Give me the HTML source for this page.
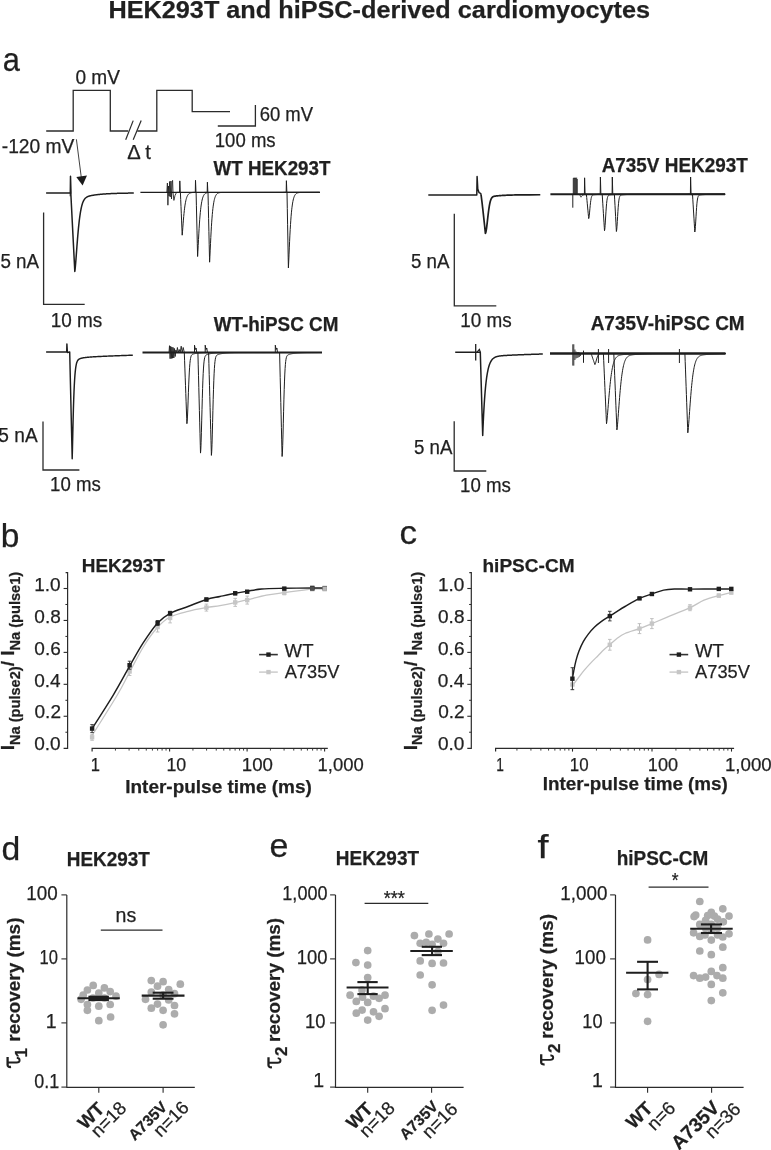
<!DOCTYPE html>
<html><head><meta charset="utf-8"><style>
html,body{margin:0;padding:0;background:#fff;}
svg{display:block;font-family:"Liberation Sans",sans-serif;filter:grayscale(100%);}
text{stroke:#231f20;stroke-width:0.25px;}
</style></head><body>
<svg width="771" height="1150" viewBox="0 0 771 1150">
<rect width="771" height="1150" fill="#fff"/>
<text x="108.46" y="18.40" font-size="24.6" font-weight="bold" fill="#231f20" textLength="541.60" lengthAdjust="spacingAndGlyphs">HEK293T and hiPSC-derived cardiomyocytes</text>
<text x="2.87" y="71.20" font-size="33.5" fill="#231f20" textLength="17.17" lengthAdjust="spacingAndGlyphs">a</text>
<text x="0.82" y="547.00" font-size="33.5" fill="#231f20" textLength="18.66" lengthAdjust="spacingAndGlyphs">b</text>
<text x="399.59" y="543.60" font-size="33.5" fill="#231f20" textLength="17.59" lengthAdjust="spacingAndGlyphs">c</text>
<text x="1.55" y="859.90" font-size="33.5" fill="#231f20" textLength="18.79" lengthAdjust="spacingAndGlyphs">d</text>
<text x="269.64" y="857.40" font-size="33.5" fill="#231f20" textLength="18.93" lengthAdjust="spacingAndGlyphs">e</text>
<text x="537.51" y="857.50" font-size="33.5" fill="#231f20" textLength="11.01" lengthAdjust="spacingAndGlyphs">f</text>
<path d="M46.2,131 H73.2 V90.3 H110.3 V131 H128.2 M137.3,131 H156.8 V90.3 H192.2 V111.7 H230.0" stroke="#2b2b2b" stroke-width="1.3" fill="none"/>
<line x1="125.70" y1="139.70" x2="133.20" y2="120.60" stroke="#2b2b2b" stroke-width="1.2"/>
<line x1="133.20" y1="139.70" x2="141.20" y2="120.60" stroke="#2b2b2b" stroke-width="1.2"/>
<path d="M217.8,126.0 H255.4 V105.0" stroke="#2b2b2b" stroke-width="1.3" fill="none"/>
<text x="75.44" y="84.30" font-size="19.5" fill="#231f20" textLength="44.53" lengthAdjust="spacingAndGlyphs">0 mV</text>
<text x="1.74" y="152.50" font-size="19.5" fill="#231f20" textLength="72.64" lengthAdjust="spacingAndGlyphs">-120 mV</text>
<text x="127.19" y="159.10" font-size="19.5" fill="#231f20" textLength="23.58" lengthAdjust="spacingAndGlyphs">Δ t</text>
<text x="259.68" y="120.50" font-size="19.5" fill="#231f20" textLength="53.42" lengthAdjust="spacingAndGlyphs">60 mV</text>
<text x="214.81" y="146.90" font-size="19.5" fill="#231f20" textLength="60.83" lengthAdjust="spacingAndGlyphs">100 ms</text>
<line x1="76.40" y1="139.30" x2="81.30" y2="177.50" stroke="#2b2b2b" stroke-width="0.9"/>
<polygon points="76.3,177 87,175.6 82.6,185.6" fill="#1a1a1a"/>
<text x="213.60" y="174.60" font-size="19.5" font-weight="bold" fill="#231f20" textLength="116.85" lengthAdjust="spacingAndGlyphs">WT HEK293T</text>
<text x="601.63" y="171.60" font-size="19.5" font-weight="bold" fill="#231f20" textLength="146.18" lengthAdjust="spacingAndGlyphs">A735V HEK293T</text>
<text x="213.70" y="330.90" font-size="19.5" font-weight="bold" fill="#231f20" textLength="124.73" lengthAdjust="spacingAndGlyphs">WT-hiPSC CM</text>
<text x="590.63" y="329.80" font-size="19.5" font-weight="bold" fill="#231f20" textLength="154.07" lengthAdjust="spacingAndGlyphs">A735V-hiPSC CM</text>
<path d="M43.6,212.6 V304.4 H84.7" stroke="#2b2b2b" stroke-width="1.3" fill="none"/>
<path d="M454.3,213.7 V305.9 H496.3" stroke="#2b2b2b" stroke-width="1.3" fill="none"/>
<path d="M43.0,421.5 V470.0 H79.4" stroke="#2b2b2b" stroke-width="1.3" fill="none"/>
<path d="M454.2,421.2 V471.0 H486.3" stroke="#2b2b2b" stroke-width="1.3" fill="none"/>
<text x="0.45" y="267.50" font-size="19.5" fill="#231f20" textLength="38.69" lengthAdjust="spacingAndGlyphs">5 nA</text>
<text x="50.78" y="326.70" font-size="19.5" fill="#231f20" textLength="51.55" lengthAdjust="spacingAndGlyphs">10 ms</text>
<text x="410.95" y="267.80" font-size="19.5" fill="#231f20" textLength="38.59" lengthAdjust="spacingAndGlyphs">5 nA</text>
<text x="460.28" y="327.20" font-size="19.5" fill="#231f20" textLength="51.55" lengthAdjust="spacingAndGlyphs">10 ms</text>
<text x="-1.66" y="442.30" font-size="19.5" fill="#231f20" textLength="39.31" lengthAdjust="spacingAndGlyphs">5 nA</text>
<text x="50.10" y="491.20" font-size="19.5" fill="#231f20" textLength="50.71" lengthAdjust="spacingAndGlyphs">10 ms</text>
<text x="413.95" y="454.20" font-size="19.5" fill="#231f20" textLength="38.49" lengthAdjust="spacingAndGlyphs">5 nA</text>
<text x="460.00" y="492.20" font-size="19.5" fill="#231f20" textLength="50.82" lengthAdjust="spacingAndGlyphs">10 ms</text>
<path d="M46.10,192.90 L70.30,192.90 L70.50,176.20 L71.00,193.40 L70.80,192.90 L71.10,198.79 L71.40,204.67 L71.70,210.56 L72.00,216.45 L72.30,222.34 L72.60,228.22 L72.90,234.11 L73.20,240.00 L73.50,245.89 L73.80,251.77 L74.10,257.66 L74.40,263.55 L74.70,269.44 L74.80,271.40 L75.10,269.39 L75.40,266.30 L75.70,262.71 L76.00,258.84 L76.30,254.84 L76.60,250.81 L76.90,246.81 L77.20,242.91 L77.50,239.14 L77.80,235.53 L78.10,232.11 L78.40,228.89 L78.70,225.86 L79.00,223.05 L79.30,220.44 L79.60,218.03 L79.90,215.82 L80.20,213.80 L80.50,211.95 L80.80,210.27 L81.10,208.74 L81.40,207.37 L81.70,206.12 L82.00,205.00 L82.30,204.00 L82.60,203.10 L82.90,202.29 L83.20,201.57 L83.50,200.93 L83.80,200.35 L84.10,199.84 L84.40,199.38 L84.70,198.97 L85.00,198.61 L85.30,198.28 L85.60,197.99 L85.90,197.73 L86.20,197.50 L86.50,197.29 L86.80,197.10 L87.10,196.93 L87.40,196.77 L87.70,196.63 L88.00,196.50 L88.30,196.38 L88.60,196.27 L88.90,196.17 L89.20,196.08 L89.50,195.99 L89.80,195.91 L90.10,195.83 L90.40,195.76 L90.70,195.69 L91.00,195.62 L91.30,195.56 L91.60,195.50 L91.90,195.44 L92.20,195.39 L92.50,195.34 L92.80,195.28 L93.10,195.23 L93.40,195.18 L93.70,195.14 L94.00,195.09 L94.30,195.05 L94.60,195.00 L94.90,194.96 L95.20,194.92 L95.50,194.88 L95.80,194.84 L96.10,194.80 L96.40,194.76 L96.70,194.72 L97.00,194.69 L97.30,194.65 L97.60,194.62 L97.90,194.58 L98.20,194.55 L98.50,194.52 L98.80,194.49 L99.10,194.45 L99.40,194.42 L99.70,194.39 L100.00,194.36 L100.30,194.33 L100.60,194.31 L100.90,194.28 L101.20,194.25 L101.50,194.22 L101.80,194.20 L102.10,194.17 L102.40,194.15 L102.70,194.12 L103.00,194.10 L103.30,194.07 L103.60,194.05 L103.90,194.03 L104.20,194.01 L104.50,193.98 L104.80,193.96 L105.10,193.94 L105.40,193.92 L105.70,193.90 L106.00,193.88 L106.30,193.86 L106.60,193.84 L106.90,193.82 L107.20,193.81 L107.50,193.79 L107.80,193.77 L108.10,193.75 L108.40,193.74 L108.70,193.72 L109.00,193.70 L109.30,193.69 L109.60,193.67 L109.90,193.66 L110.20,193.64 L110.50,193.63 L110.80,193.61 L111.10,193.60 L111.40,193.58 L111.70,193.57 L112.00,193.56 L112.30,193.54 L112.60,193.53 L112.90,193.52 L113.20,193.51 L113.50,193.49 L113.80,193.48 L114.10,193.47 L114.40,193.46 L114.70,193.45 L115.00,193.44 L115.30,193.43 L115.60,193.42 L115.90,193.41 L116.20,193.40 L116.50,193.39 L116.80,193.38 L117.10,193.37 L117.40,193.36 L117.70,193.35 L118.00,193.34 L118.30,193.33 L118.60,193.32 L118.90,193.31 L119.20,193.31 L119.50,193.30 L119.80,193.29 L120.10,193.28 L120.40,193.28 L120.70,193.27 L121.00,193.26 L121.30,193.25 L121.60,193.25 L121.90,193.24 L122.20,193.23 L122.50,193.23 L122.80,193.22 L123.10,193.21 L123.40,193.21 L123.70,193.20 L124.00,193.20 L124.30,193.19 L124.60,193.18 L124.90,193.18 L125.20,193.17 L125.50,193.17 L125.80,193.16 L126.10,193.16 L126.40,193.15 L126.70,193.15 L127.00,193.14 L127.30,193.14 L127.60,193.13 L127.90,193.13 L128.20,193.12 L128.50,193.12 L128.80,193.11 L129.10,193.11 L129.40,193.11 L129.70,193.10 L130.00,193.10 L130.30,193.09 L130.60,193.09 L130.90,193.09 L131.20,193.08 L131.50,193.08 L131.80,193.08 L132.10,193.07 L132.40,193.07 L132.70,193.07 L133.00,193.06 L133.30,193.06 L133.60,193.06 L133.80,193.05" stroke="#1e1e1e" stroke-width="1.5" fill="none" stroke-linejoin="round" stroke-linecap="butt"/>
<line x1="70.20" y1="192.90" x2="70.20" y2="196.30" stroke="#1e1e1e" stroke-width="1.0"/>
<path d="M176.80,192.40 L179.60,192.40 L179.80,180.90 L180.30,192.90 L180.40,192.40 L180.70,199.53 L181.00,206.67 L181.30,213.80 L181.60,220.93 L181.90,228.07 L182.20,235.20 L182.50,231.81 L182.80,227.81 L183.10,223.85 L183.40,220.10 L183.70,216.63 L184.00,213.48 L184.30,210.66 L184.60,208.15 L184.90,205.93 L185.20,203.98 L185.50,202.29 L185.80,200.81 L186.10,199.54 L186.40,198.45 L186.70,197.51 L187.00,196.70 L187.30,196.02 L187.60,195.44 L187.90,194.94 L188.20,194.52 L188.50,194.17 L188.80,193.88 L189.10,193.63 L189.40,193.42 L189.70,193.25 L190.00,193.10 L190.30,192.98 L190.60,192.88 L190.90,192.79 L191.20,192.72 L191.50,192.67 L191.80,192.62 L192.10,192.58 L192.40,192.55 L192.70,192.52 L193.00,192.50 L193.30,192.48 L319.80,192.40" stroke="#1e1e1e" stroke-width="1.0" fill="none" stroke-linejoin="round" stroke-linecap="butt"/>
<path d="M192.50,192.40 L195.30,192.40 L195.50,180.30 L196.00,192.90 L196.10,192.40 L196.40,205.22 L196.70,218.04 L197.00,230.86 L197.30,243.68 L197.60,256.50 L197.90,251.43 L198.20,245.44 L198.50,239.50 L198.80,233.88 L199.10,228.69 L199.40,223.98 L199.70,219.74 L200.00,215.98 L200.30,212.66 L200.60,209.75 L200.90,207.21 L201.20,205.00 L201.50,203.09 L201.80,201.45 L202.10,200.05 L202.40,198.84 L202.70,197.82 L203.00,196.95 L203.30,196.21 L203.60,195.58 L203.90,195.06 L204.20,194.61 L204.50,194.24 L204.80,193.93 L205.10,193.67 L205.40,193.45 L205.70,193.27 L206.00,193.11 L206.30,192.99 L206.60,192.88 L206.90,192.80 L207.20,192.73 L207.50,192.67 L207.80,192.62 L208.10,192.58 L208.40,192.55 L208.70,192.52 L209.00,192.50 L209.30,192.48 L319.80,192.40" stroke="#1e1e1e" stroke-width="1.0" fill="none" stroke-linejoin="round" stroke-linecap="butt"/>
<path d="M204.40,192.40 L207.20,192.40 L207.40,182.20 L207.90,192.90 L208.00,192.40 L208.30,205.49 L208.60,218.58 L208.90,231.66 L209.20,244.75 L209.50,257.84 L209.60,262.20 L209.90,256.67 L210.20,250.15 L210.50,243.69 L210.80,237.57 L211.10,231.92 L211.40,226.78 L211.70,222.18 L212.00,218.08 L212.30,214.46 L212.60,211.29 L212.90,208.52 L213.20,206.12 L213.50,204.05 L213.80,202.26 L214.10,200.73 L214.40,199.42 L214.70,198.30 L215.00,197.35 L215.30,196.55 L215.60,195.87 L215.90,195.29 L216.20,194.81 L216.50,194.40 L216.80,194.06 L217.10,193.78 L217.40,193.54 L217.70,193.34 L218.00,193.18 L218.30,193.04 L218.60,192.93 L218.90,192.83 L219.20,192.76 L219.50,192.69 L219.80,192.64 L220.10,192.60 L220.40,192.56 L220.70,192.53 L221.00,192.51 L221.30,192.49 L221.60,192.47 L319.80,192.40" stroke="#1e1e1e" stroke-width="1.0" fill="none" stroke-linejoin="round" stroke-linecap="butt"/>
<path d="M283.40,192.40 L286.20,192.40 L286.40,180.70 L286.90,192.90 L287.00,192.40 L287.30,208.58 L287.60,224.76 L287.90,240.94 L288.20,257.11 L288.40,267.90 L288.70,261.92 L289.00,254.87 L289.30,247.87 L289.60,241.26 L289.90,235.14 L290.20,229.59 L290.50,224.61 L290.80,220.17 L291.10,216.26 L291.40,212.83 L291.70,209.84 L292.00,207.24 L292.30,205.00 L292.60,203.06 L292.90,201.41 L293.20,199.99 L293.50,198.78 L293.80,197.75 L294.10,196.88 L294.40,196.15 L294.70,195.53 L295.00,195.01 L295.30,194.57 L295.60,194.20 L295.90,193.89 L296.20,193.63 L296.50,193.42 L296.80,193.24 L297.10,193.09 L297.40,192.97 L297.70,192.87 L298.00,192.79 L298.30,192.72 L298.60,192.66 L298.90,192.61 L299.20,192.57 L299.50,192.54 L299.80,192.52 L300.10,192.49 L300.40,192.48 L319.80,192.40" stroke="#1e1e1e" stroke-width="1.0" fill="none" stroke-linejoin="round" stroke-linecap="butt"/>
<path d="M140.40,192.40 L319.80,192.40" stroke="#1e1e1e" stroke-width="1.4" fill="none" stroke-linejoin="round" stroke-linecap="butt"/>
<path d="M166.8,192.4 L167.4,183 L167.9,205.2 L168.5,186 L169.1,196 L169.6,181.5 L170.2,197 L170.9,181 L171.5,199 L172.1,182 L172.6,180.4 L173.0,192.4 L173.9,200.4 L175.0,195.5 L176.5,192.4" stroke="#1e1e1e" stroke-width="0.85" fill="none"/>
<path d="M428.3,194.9 L476.8,194.9 L477.1,176.6 L477.8,189 L479,192.6 L480.6,193.4 L481.2,194.8" stroke="#1e1e1e" stroke-width="1.5" fill="none" stroke-linejoin="round"/>
<path d="M481.00,194.70 L481.00,194.70 L481.30,196.72 L481.60,199.02 L481.90,201.45 L482.20,203.97 L482.50,206.55 L482.80,209.18 L483.10,211.85 L483.40,214.57 L483.70,217.32 L484.00,220.09 L484.30,222.90 L484.60,225.73 L484.90,228.59 L485.20,231.47 L485.40,233.40 L485.70,232.85 L486.00,231.63 L486.30,229.90 L486.60,227.78 L486.90,225.39 L487.20,222.81 L487.50,220.15 L487.80,217.50 L488.10,214.91 L488.40,212.45 L488.70,210.15 L489.00,208.05 L489.30,206.16 L489.60,204.49 L489.90,203.03 L490.20,201.78 L490.50,200.71 L490.80,199.82 L491.10,199.08 L491.40,198.47 L491.70,197.98 L492.00,197.58 L492.30,197.26 L492.60,197.01 L492.90,196.80 L493.20,196.64 L493.50,196.51 L493.80,196.40 L494.10,196.32 L494.40,196.24 L494.70,196.18 L495.00,196.13 L495.30,196.08 L495.60,196.04 L495.90,196.00 L496.20,195.97 L496.50,195.93 L496.80,195.90 L497.10,195.87 L497.40,195.84 L497.70,195.81 L498.00,195.78 L498.30,195.76 L498.60,195.73 L498.90,195.71 L499.20,195.68 L499.50,195.66 L499.80,195.63 L500.10,195.61 L500.40,195.59 L500.70,195.57 L501.00,195.54 L501.30,195.52 L501.60,195.50 L501.90,195.48 L502.20,195.46 L502.50,195.44 L502.80,195.43 L503.10,195.41 L503.40,195.39 L503.70,195.37 L504.00,195.36 L504.30,195.34 L504.60,195.33 L504.90,195.31 L505.20,195.29 L505.50,195.28 L505.80,195.27 L506.10,195.25 L506.40,195.24 L506.70,195.22 L507.00,195.21 L507.30,195.20 L507.60,195.19 L507.90,195.17 L508.20,195.16 L508.50,195.15 L508.80,195.14 L509.10,195.13 L509.40,195.12 L509.70,195.11 L510.00,195.10 L510.30,195.09 L510.60,195.08 L510.90,195.07 L511.20,195.06 L511.50,195.05 L511.80,195.04 L512.10,195.03 L512.40,195.03 L512.70,195.02 L513.00,195.01 L513.30,195.00 L513.60,195.00 L513.90,194.99 L514.20,194.98 L514.50,194.97 L514.80,194.97 L515.10,194.96 L515.40,194.95 L515.70,194.95 L516.00,194.94 L516.30,194.94 L516.60,194.93 L516.90,194.92 L517.20,194.92 L517.50,194.91 L517.80,194.91 L518.10,194.90 L518.40,194.90 L518.70,194.89 L519.00,194.89 L519.30,194.88 L519.60,194.88 L519.90,194.87 L520.20,194.87 L520.50,194.87 L520.80,194.86 L521.10,194.86 L521.40,194.85 L521.70,194.85 L522.00,194.85 L522.30,194.84 L522.60,194.84 L522.90,194.84 L523.20,194.83 L523.50,194.83 L523.80,194.83 L524.10,194.82 L524.40,194.82 L524.70,194.82 L525.00,194.81 L525.30,194.81 L525.60,194.81 L525.90,194.81 L526.20,194.80 L526.50,194.80 L526.80,194.80 L527.10,194.80 L527.40,194.79 L527.70,194.79 L528.00,194.79 L528.30,194.79 L528.60,194.78 L528.90,194.78 L529.20,194.78 L529.50,194.78 L540.30,194.73" stroke="#1e1e1e" stroke-width="1.7" fill="none" stroke-linejoin="round" stroke-linecap="butt"/>
<path d="M581.60,194.30 L584.40,194.30 L584.60,177.80 L585.10,194.80 L586.40,194.30 L586.70,197.47 L587.00,200.64 L587.30,203.81 L587.60,206.98 L587.90,210.15 L588.20,213.32 L588.50,216.49 L588.70,218.60 L589.00,217.53 L589.30,215.18 L589.60,212.11 L589.90,208.79 L590.20,205.59 L590.50,202.77 L590.80,200.44 L591.10,198.64 L591.40,197.32 L591.70,196.40 L592.00,195.78 L592.30,195.38 L592.60,195.12 L592.90,194.97 L593.20,194.87 L593.50,194.80 L593.80,194.75 L594.10,194.72 L594.40,194.69 L594.70,194.67 L595.00,194.65 L595.30,194.62 L595.60,194.61 L595.90,194.59 L596.20,194.57 L596.50,194.56 L596.80,194.54 L597.10,194.53 L597.40,194.51 L597.70,194.50 L598.00,194.49 L598.30,194.48 L598.60,194.47 L598.90,194.46 L599.20,194.45 L599.50,194.44 L599.80,194.43 L600.10,194.42 L600.40,194.42 L600.70,194.41 L601.00,194.40 L601.30,194.40 L601.60,194.39 L601.90,194.39 L602.20,194.38 L602.50,194.38 L725.10,194.30" stroke="#1e1e1e" stroke-width="1.0" fill="none" stroke-linejoin="round" stroke-linecap="butt"/>
<path d="M597.40,194.30 L600.20,194.30 L600.40,177.00 L600.90,194.80 L602.20,194.30 L602.50,199.05 L602.80,203.80 L603.10,208.54 L603.40,213.29 L603.70,218.04 L604.00,222.79 L604.30,227.53 L604.50,230.70 L604.80,229.10 L605.10,225.58 L605.40,220.97 L605.70,216.00 L606.00,211.21 L606.30,206.98 L606.60,203.50 L606.90,200.81 L607.20,198.83 L607.50,197.44 L607.80,196.52 L608.10,195.91 L608.40,195.54 L608.70,195.30 L609.00,195.15 L609.30,195.05 L609.60,194.98 L609.90,194.93 L610.20,194.89 L610.50,194.85 L610.80,194.82 L611.10,194.79 L611.40,194.76 L611.70,194.73 L612.00,194.71 L612.30,194.68 L612.60,194.66 L612.90,194.64 L613.20,194.62 L613.50,194.60 L613.80,194.58 L614.10,194.57 L614.40,194.55 L614.70,194.54 L615.00,194.52 L615.30,194.51 L615.60,194.50 L615.90,194.49 L616.20,194.48 L616.50,194.47 L616.80,194.46 L617.10,194.45 L617.40,194.44 L617.70,194.43 L618.00,194.42 L618.30,194.42 L618.60,194.41 L618.90,194.40 L619.20,194.40 L619.50,194.39 L619.80,194.39 L620.10,194.38 L620.40,194.38 L725.10,194.30" stroke="#1e1e1e" stroke-width="1.0" fill="none" stroke-linejoin="round" stroke-linecap="butt"/>
<path d="M609.30,194.30 L612.10,194.30 L612.30,177.00 L612.80,194.80 L614.40,194.30 L614.70,199.88 L615.00,205.46 L615.30,211.04 L615.60,216.62 L615.90,222.20 L616.20,227.78 L616.40,231.50 L616.70,229.87 L617.00,226.26 L617.30,221.56 L617.60,216.48 L617.90,211.58 L618.20,207.26 L618.50,203.71 L618.80,200.95 L619.10,198.93 L619.40,197.51 L619.70,196.56 L620.00,195.95 L620.30,195.56 L620.60,195.32 L620.90,195.17 L621.20,195.07 L621.50,195.00 L621.80,194.94 L622.10,194.90 L622.40,194.86 L622.70,194.83 L623.00,194.80 L623.30,194.77 L623.60,194.74 L623.90,194.72 L624.20,194.69 L624.50,194.67 L624.80,194.65 L625.10,194.63 L625.40,194.61 L625.70,194.59 L626.00,194.57 L626.30,194.56 L626.60,194.54 L626.90,194.53 L627.20,194.51 L627.50,194.50 L627.80,194.49 L628.10,194.48 L628.40,194.47 L628.70,194.46 L629.00,194.45 L629.30,194.44 L629.60,194.43 L629.90,194.43 L630.20,194.42 L630.50,194.41 L630.80,194.40 L631.10,194.40 L631.40,194.39 L631.70,194.39 L632.00,194.38 L632.30,194.38 L725.10,194.30" stroke="#1e1e1e" stroke-width="1.0" fill="none" stroke-linejoin="round" stroke-linecap="butt"/>
<path d="M687.60,194.30 L690.40,194.30 L690.60,177.00 L691.10,194.80 L692.50,194.30 L692.80,199.22 L693.10,204.13 L693.40,209.05 L693.70,213.97 L694.00,218.89 L694.30,223.80 L694.60,228.72 L694.80,232.00 L695.10,230.35 L695.40,226.69 L695.70,221.93 L696.00,216.77 L696.30,211.82 L696.60,207.44 L696.90,203.83 L697.20,201.04 L697.50,198.99 L697.80,197.56 L698.10,196.60 L698.40,195.97 L698.70,195.58 L699.00,195.33 L699.30,195.18 L699.60,195.08 L699.90,195.01 L700.20,194.95 L700.50,194.91 L700.80,194.87 L701.10,194.84 L701.40,194.80 L701.70,194.77 L702.00,194.75 L702.30,194.72 L702.60,194.70 L702.90,194.67 L703.20,194.65 L703.50,194.63 L703.80,194.61 L704.10,194.59 L704.40,194.58 L704.70,194.56 L705.00,194.55 L705.30,194.53 L705.60,194.52 L705.90,194.50 L706.20,194.49 L706.50,194.48 L706.80,194.47 L707.10,194.46 L707.40,194.45 L707.70,194.44 L708.00,194.43 L708.30,194.43 L708.60,194.42 L708.90,194.41 L709.20,194.41 L709.50,194.40 L709.80,194.39 L710.10,194.39 L710.40,194.38 L710.70,194.38 L725.10,194.30" stroke="#1e1e1e" stroke-width="1.0" fill="none" stroke-linejoin="round" stroke-linecap="butt"/>
<path d="M550.40,194.30 L725.10,194.30" stroke="#1e1e1e" stroke-width="2.0" fill="none" stroke-linejoin="round" stroke-linecap="butt"/>
<path d="M572.8,194.3 L572.8,207.7 M573.3,178.2 L573.3,194.3 M574.3,178.2 L574.3,194.3 M575.3,178.2 L575.3,194.3 M576.3,178.6 L576.3,194.3 M577.2,179 L577.2,194.3 M573.3,178.2 H577.2" stroke="#1e1e1e" stroke-width="1.0" fill="none"/>
<path d="M578.00,194.30 L579.50,194.30 L579.80,194.88 L580.10,195.46 L580.40,196.04 L580.70,196.62 L581.00,197.20 L581.00,197.20 L581.30,196.67 L581.60,196.24 L581.90,195.89 L582.20,195.60 L582.50,195.37 L582.80,195.17 L583.10,195.02 L583.40,194.89 L583.70,194.78 L584.00,194.69 L584.30,194.62 L584.60,194.56 L584.90,194.52 L585.20,194.48 L585.50,194.44 L585.80,194.42 L586.10,194.40 L586.40,194.38 L725.10,194.30" stroke="#1e1e1e" stroke-width="0.9" fill="none" stroke-linejoin="round" stroke-linecap="butt"/>
<path d="M46.10,352.00 L66.70,352.00 L66.90,344.00 L67.40,352.50 L69.70,352.00 L70.00,364.82 L70.30,377.63 L70.60,390.45 L70.90,403.26 L71.20,416.08 L71.50,428.90 L71.80,441.71 L72.10,454.53 L72.20,458.80 L72.50,446.94 L72.80,433.20 L73.10,420.50 L73.40,409.35 L73.70,399.84 L74.00,391.87 L74.30,385.30 L74.60,379.93 L74.90,375.59 L75.20,372.10 L75.50,369.31 L75.80,367.08 L76.10,365.32 L76.40,363.92 L76.70,362.81 L77.00,361.93 L77.30,361.23 L77.60,360.68 L77.90,360.23 L78.20,359.87 L78.50,359.57 L78.80,359.33 L79.10,359.12 L79.40,358.95 L79.70,358.80 L80.00,358.67 L80.30,358.56 L80.60,358.46 L80.90,358.37 L81.20,358.29 L81.50,358.21 L81.80,358.14 L82.10,358.07 L82.40,358.01 L82.70,357.95 L83.00,357.89 L83.30,357.84 L83.60,357.79 L83.90,357.74 L84.20,357.70 L84.50,357.65 L84.80,357.61 L85.10,357.57 L85.40,357.53 L85.70,357.49 L86.00,357.45 L86.30,357.42 L86.60,357.39 L86.90,357.35 L87.20,357.32 L87.50,357.29 L87.80,357.26 L88.10,357.23 L88.40,357.20 L88.70,357.18 L89.00,357.15 L89.30,357.13 L89.60,357.10 L89.90,357.08 L90.20,357.05 L90.50,357.03 L90.80,357.01 L91.10,356.98 L91.40,356.96 L91.70,356.94 L92.00,356.92 L92.30,356.90 L92.60,356.88 L92.90,356.86 L93.20,356.84 L93.50,356.82 L93.80,356.80 L94.10,356.79 L94.40,356.77 L94.70,356.75 L95.00,356.73 L95.30,356.72 L95.60,356.70 L95.90,356.68 L96.20,356.66 L96.50,356.65 L96.80,356.63 L97.10,356.62 L97.40,356.60 L97.70,356.58 L98.00,356.57 L98.30,356.55 L98.60,356.54 L98.90,356.52 L99.20,356.51 L99.50,356.49 L99.80,356.48 L100.10,356.46 L100.40,356.45 L100.70,356.44 L101.00,356.42 L101.30,356.41 L101.60,356.39 L101.90,356.38 L102.20,356.36 L102.50,356.35 L102.80,356.34 L103.10,356.32 L103.40,356.31 L103.70,356.30 L104.00,356.28 L104.30,356.27 L104.60,356.26 L104.90,356.24 L105.20,356.23 L105.50,356.22 L105.80,356.20 L106.10,356.19 L106.40,356.18 L106.70,356.17 L107.00,356.15 L107.30,356.14 L107.60,356.13 L107.90,356.11 L108.20,356.10 L108.50,356.09 L108.80,356.08 L109.10,356.06 L109.40,356.05 L109.70,356.04 L110.00,356.03 L110.30,356.02 L110.60,356.00 L110.90,355.99 L111.20,355.98 L111.50,355.97 L111.80,355.96 L112.10,355.94 L112.40,355.93 L112.70,355.92 L113.00,355.91 L113.30,355.90 L113.60,355.88 L113.90,355.87 L114.20,355.86 L114.50,355.85 L114.80,355.84 L115.10,355.83 L115.40,355.81 L115.70,355.80 L116.00,355.79 L116.30,355.78 L116.60,355.77 L116.90,355.76 L117.20,355.75 L117.50,355.73 L117.80,355.72 L118.10,355.71 L118.40,355.70 L118.70,355.69 L119.00,355.68 L119.30,355.67 L119.60,355.66 L119.90,355.65 L120.20,355.64 L120.50,355.62 L120.80,355.61 L121.10,355.60 L121.40,355.59 L121.70,355.58 L122.00,355.57 L122.30,355.56 L122.60,355.55 L122.90,355.54 L123.20,355.53 L123.50,355.52 L123.80,355.51 L124.10,355.50 L124.40,355.49 L124.70,355.47 L125.00,355.46 L125.30,355.45 L125.60,355.44 L125.90,355.43 L126.20,355.42 L126.50,355.41 L126.80,355.40 L127.10,355.39 L127.40,355.38 L127.70,355.37 L128.00,355.36 L128.30,355.35 L128.60,355.34 L128.90,355.33 L129.20,355.32 L129.50,355.31 L129.80,355.30 L130.10,355.29 L130.40,355.28 L130.70,355.27 L131.00,355.26 L131.30,355.25 L131.60,355.24 L131.90,355.23 L132.20,355.22 L132.50,355.21 L132.80,355.20 L132.80,355.20" stroke="#1e1e1e" stroke-width="1.45" fill="none" stroke-linejoin="round" stroke-linecap="butt"/>
<path d="M176.30,352.50 L184.30,352.50 L184.60,360.72 L184.90,368.93 L185.20,377.15 L185.50,385.36 L185.80,393.58 L186.10,401.79 L186.40,410.01 L186.70,418.22 L186.90,423.70 L187.20,421.33 L187.50,416.05 L187.80,408.95 L188.10,400.92 L188.40,392.71 L188.70,384.93 L189.00,377.97 L189.30,372.06 L189.60,367.25 L189.90,363.50 L190.20,360.67 L190.50,358.60 L190.80,357.13 L191.10,356.12 L191.40,355.42 L191.70,354.95 L192.00,354.63 L192.30,354.41 L192.60,354.24 L192.90,354.12 L193.20,354.02 L193.50,353.93 L193.80,353.86 L194.10,353.79 L194.40,353.73 L194.70,353.66 L195.00,353.61 L195.30,353.55 L195.60,353.50 L195.90,353.45 L196.20,353.41 L196.50,353.36 L196.80,353.32 L197.10,353.28 L197.40,353.24 L197.70,353.21 L198.00,353.17 L198.30,353.14 L198.60,353.11 L198.90,353.08 L199.20,353.05 L199.50,353.02 L199.80,353.00 L200.10,352.97 L200.40,352.95 L200.70,352.93 L201.00,352.91 L201.30,352.89 L201.60,352.87 L201.90,352.85 L202.20,352.83 L202.50,352.82 L202.80,352.80 L203.10,352.79 L203.40,352.77 L203.70,352.76 L204.00,352.75 L204.30,352.74 L204.60,352.72 L204.90,352.71 L205.20,352.70 L205.50,352.69 L205.80,352.68 L206.10,352.67 L206.40,352.67 L206.70,352.66 L207.00,352.65 L207.30,352.64 L207.60,352.64 L207.90,352.63 L208.20,352.62 L208.50,352.62 L208.80,352.61 L209.10,352.61 L209.40,352.60 L209.70,352.60 L210.00,352.59 L210.30,352.59 L210.60,352.58 L210.90,352.58 L322.00,352.50" stroke="#1e1e1e" stroke-width="1.0" fill="none" stroke-linejoin="round" stroke-linecap="butt"/>
<path d="M189.90,352.50 L197.90,352.50 L198.20,364.11 L198.50,375.72 L198.80,387.32 L199.10,398.93 L199.40,410.54 L199.70,422.15 L200.00,433.75 L200.30,445.36 L200.50,453.10 L200.80,449.75 L201.10,442.29 L201.40,432.26 L201.70,420.91 L202.00,409.32 L202.30,398.32 L202.60,388.49 L202.90,380.14 L203.20,373.34 L203.50,368.04 L203.80,364.04 L204.10,361.12 L204.40,359.05 L204.70,357.61 L205.00,356.63 L205.30,355.96 L205.60,355.51 L205.90,355.19 L206.20,354.96 L206.50,354.79 L206.80,354.65 L207.10,354.53 L207.40,354.42 L207.70,354.32 L208.00,354.23 L208.30,354.15 L208.60,354.07 L208.90,353.99 L209.20,353.92 L209.50,353.85 L209.80,353.78 L210.10,353.72 L210.40,353.66 L210.70,353.60 L211.00,353.55 L211.30,353.50 L211.60,353.45 L211.90,353.40 L212.20,353.36 L212.50,353.32 L212.80,353.28 L213.10,353.24 L213.40,353.20 L213.70,353.17 L214.00,353.14 L214.30,353.11 L214.60,353.08 L214.90,353.05 L215.20,353.02 L215.50,353.00 L215.80,352.97 L216.10,352.95 L216.40,352.93 L216.70,352.91 L217.00,352.89 L217.30,352.87 L217.60,352.85 L217.90,352.83 L218.20,352.82 L218.50,352.80 L218.80,352.79 L219.10,352.77 L219.40,352.76 L219.70,352.75 L220.00,352.73 L220.30,352.72 L220.60,352.71 L220.90,352.70 L221.20,352.69 L221.50,352.68 L221.80,352.67 L222.10,352.66 L222.40,352.66 L222.70,352.65 L223.00,352.64 L223.30,352.64 L223.60,352.63 L223.90,352.62 L224.20,352.62 L224.50,352.61 L224.80,352.61 L225.10,352.60 L225.40,352.60 L225.70,352.59 L226.00,352.59 L226.30,352.58 L226.60,352.58 L322.00,352.50" stroke="#1e1e1e" stroke-width="1.0" fill="none" stroke-linejoin="round" stroke-linecap="butt"/>
<path d="M194.5,352.5 L194.5,345.2 L195.3,349.5 L196.1,348 L196.7,352.5" stroke="#1e1e1e" stroke-width="1.0" fill="none"/>
<path d="M200.60,352.50 L208.60,352.50 L208.90,363.53 L209.20,374.55 L209.50,385.58 L209.80,396.60 L210.10,407.63 L210.40,418.65 L210.70,429.68 L211.00,440.70 L211.30,451.73 L211.40,455.40 L211.70,451.97 L212.00,444.35 L212.30,434.09 L212.60,422.48 L212.90,410.62 L213.20,399.37 L213.50,389.31 L213.80,380.77 L214.10,373.82 L214.40,368.39 L214.70,364.30 L215.00,361.31 L215.30,359.20 L215.60,357.73 L215.90,356.72 L216.20,356.04 L216.50,355.58 L216.80,355.26 L217.10,355.02 L217.40,354.84 L217.70,354.70 L218.00,354.57 L218.30,354.46 L218.60,354.36 L218.90,354.27 L219.20,354.18 L219.50,354.10 L219.80,354.02 L220.10,353.95 L220.40,353.88 L220.70,353.81 L221.00,353.75 L221.30,353.69 L221.60,353.63 L221.90,353.57 L222.20,353.52 L222.50,353.47 L222.80,353.42 L223.10,353.38 L223.40,353.34 L223.70,353.29 L224.00,353.26 L224.30,353.22 L224.60,353.18 L224.90,353.15 L225.20,353.12 L225.50,353.09 L225.80,353.06 L226.10,353.03 L226.40,353.01 L226.70,352.98 L227.00,352.96 L227.30,352.94 L227.60,352.91 L227.90,352.89 L228.20,352.88 L228.50,352.86 L228.80,352.84 L229.10,352.82 L229.40,352.81 L229.70,352.79 L230.00,352.78 L230.30,352.76 L230.60,352.75 L230.90,352.74 L231.20,352.73 L231.50,352.72 L231.80,352.71 L232.10,352.70 L232.40,352.69 L232.70,352.68 L233.00,352.67 L233.30,352.66 L233.60,352.65 L233.90,352.65 L234.20,352.64 L234.50,352.63 L234.80,352.62 L235.10,352.62 L235.40,352.61 L235.70,352.61 L236.00,352.60 L236.30,352.60 L236.60,352.59 L236.90,352.59 L237.20,352.58 L237.50,352.58 L322.00,352.50" stroke="#1e1e1e" stroke-width="1.0" fill="none" stroke-linejoin="round" stroke-linecap="butt"/>
<path d="M205.2,352.5 L205.2,345.2 L206.0,349.5 L206.8,348 L207.4,352.5" stroke="#1e1e1e" stroke-width="1.0" fill="none"/>
<path d="M271.60,352.50 L279.60,352.50 L279.90,364.98 L280.20,377.46 L280.50,389.94 L280.80,402.42 L281.10,414.90 L281.40,427.38 L281.70,439.86 L282.00,452.34 L282.10,456.50 L282.40,453.03 L282.70,445.33 L283.00,434.96 L283.30,423.22 L283.60,411.24 L283.90,399.87 L284.20,389.71 L284.50,381.07 L284.80,374.05 L285.10,368.56 L285.40,364.43 L285.70,361.41 L286.00,359.27 L286.30,357.78 L286.60,356.77 L286.90,356.08 L287.20,355.61 L287.50,355.29 L287.80,355.05 L288.10,354.87 L288.40,354.72 L288.70,354.60 L289.00,354.48 L289.30,354.38 L289.60,354.29 L289.90,354.20 L290.20,354.12 L290.50,354.04 L290.80,353.96 L291.10,353.89 L291.40,353.82 L291.70,353.76 L292.00,353.70 L292.30,353.64 L292.60,353.58 L292.90,353.53 L293.20,353.48 L293.50,353.43 L293.80,353.39 L294.10,353.34 L294.40,353.30 L294.70,353.26 L295.00,353.23 L295.30,353.19 L295.60,353.16 L295.90,353.13 L296.20,353.10 L296.50,353.07 L296.80,353.04 L297.10,353.01 L297.40,352.99 L297.70,352.96 L298.00,352.94 L298.30,352.92 L298.60,352.90 L298.90,352.88 L299.20,352.86 L299.50,352.84 L299.80,352.83 L300.10,352.81 L300.40,352.80 L300.70,352.78 L301.00,352.77 L301.30,352.75 L301.60,352.74 L301.90,352.73 L302.20,352.72 L302.50,352.71 L302.80,352.70 L303.10,352.69 L303.40,352.68 L303.70,352.67 L304.00,352.66 L304.30,352.65 L304.60,352.65 L304.90,352.64 L305.20,352.63 L305.50,352.63 L305.80,352.62 L306.10,352.61 L306.40,352.61 L306.70,352.60 L307.00,352.60 L307.30,352.59 L307.60,352.59 L307.90,352.58 L308.20,352.58 L308.50,352.58 L322.00,352.51" stroke="#1e1e1e" stroke-width="1.0" fill="none" stroke-linejoin="round" stroke-linecap="butt"/>
<path d="M275.3,352.5 L275.3,345.2 L276.1,349.5 L276.9,348 L277.5,352.5" stroke="#1e1e1e" stroke-width="1.0" fill="none"/>
<path d="M142.50,352.50 L322.00,352.50" stroke="#1e1e1e" stroke-width="1.8" fill="none" stroke-linejoin="round" stroke-linecap="butt"/>
<path d="M169,352.5 L169.5,345.7 L170.1,358.7 L170.7,346.3 L171.3,358.5 L171.9,347 L172.5,358.2 L173.1,347.5 L173.8,358 L174.5,348.5 L175.2,356.5 L175.9,350 L176.6,353 L177.4,347.5 L178.2,352.5 L179.2,349.5 L180.2,352.5 L181.2,346.2 L182.2,352.5 L183.2,347.5 L184.3,352.5" stroke="#1e1e1e" stroke-width="0.9" fill="none"/>
<path d="M455.20,352.20 L480.30,352.20 L480.60,362.61 L480.90,373.03 L481.20,383.44 L481.50,393.85 L481.80,404.26 L482.10,414.68 L482.40,425.09 L482.70,435.50 L483.00,427.99 L483.30,421.19 L483.60,415.03 L483.90,409.46 L484.20,404.42 L484.50,399.86 L484.80,395.73 L485.10,391.99 L485.40,388.60 L485.70,385.53 L486.00,382.76 L486.30,380.24 L486.60,377.97 L486.90,375.91 L487.20,374.04 L487.50,372.35 L487.80,370.82 L488.10,369.43 L488.40,368.17 L488.70,367.03 L489.00,366.00 L489.30,365.06 L489.60,364.21 L489.90,363.44 L490.20,362.74 L490.50,362.11 L490.80,361.54 L491.10,361.01 L491.40,360.54 L491.70,360.11 L492.00,359.72 L492.30,359.36 L492.60,359.04 L492.90,358.74 L493.20,358.48 L493.50,358.23 L493.80,358.01 L494.10,357.81 L494.40,357.62 L494.70,357.45 L495.00,357.30 L495.30,357.15 L495.60,357.02 L495.90,356.91 L496.20,356.80 L496.50,356.70 L496.80,356.60 L497.10,356.52 L497.40,356.44 L497.70,356.37 L498.00,356.30 L498.30,356.24 L498.60,356.18 L498.90,356.13 L499.20,356.08 L499.50,356.03 L499.80,355.99 L500.10,355.94 L500.40,355.91 L500.70,355.87 L501.00,355.83 L501.30,355.80 L501.60,355.77 L501.90,355.74 L502.20,355.71 L502.50,355.69 L502.80,355.66 L503.10,355.64 L503.40,355.61 L503.70,355.59 L504.00,355.57 L504.30,355.54 L504.60,355.52 L504.90,355.50 L505.20,355.48 L505.50,355.47 L505.80,355.45 L506.10,355.43 L506.40,355.41 L506.70,355.39 L507.00,355.38 L507.30,355.36 L507.60,355.34 L507.90,355.33 L508.20,355.31 L508.50,355.30 L508.80,355.28 L509.10,355.26 L509.40,355.25 L509.70,355.23 L510.00,355.22 L510.30,355.20 L510.60,355.19 L510.90,355.18 L511.20,355.16 L511.50,355.15 L511.80,355.13 L512.10,355.12 L512.40,355.11 L512.70,355.09 L513.00,355.08 L513.30,355.06 L513.60,355.05 L513.90,355.04 L514.20,355.02 L514.50,355.01 L514.80,355.00 L515.10,354.98 L515.40,354.97 L515.70,354.96 L516.00,354.95 L516.30,354.93 L516.60,354.92 L516.90,354.91 L517.20,354.90 L517.50,354.88 L517.80,354.87 L518.10,354.86 L518.40,354.85 L518.70,354.83 L519.00,354.82 L519.30,354.81 L519.60,354.80 L519.90,354.79 L520.20,354.77 L520.50,354.76 L520.80,354.75 L521.10,354.74 L521.40,354.73 L521.70,354.71 L522.00,354.70 L522.30,354.69 L522.60,354.68 L522.90,354.67 L523.20,354.66 L523.50,354.65 L523.80,354.63 L524.10,354.62 L524.40,354.61 L524.70,354.60 L525.00,354.59 L525.30,354.58 L525.60,354.57 L525.90,354.56 L526.20,354.55 L526.50,354.54 L526.80,354.52 L527.10,354.51 L527.40,354.50 L527.70,354.49 L528.00,354.48 L528.30,354.47 L528.60,354.46 L528.90,354.45 L529.20,354.44 L529.50,354.43 L529.80,354.42 L530.10,354.41 L530.40,354.40 L530.70,354.39 L531.00,354.38 L531.30,354.37 L531.60,354.36 L531.90,354.35 L532.20,354.34 L532.50,354.33 L532.80,354.32 L533.10,354.31 L533.40,354.30 L533.70,354.29 L534.00,354.28 L534.30,354.27 L534.60,354.26 L534.90,354.25 L535.20,354.24 L535.50,354.23 L535.80,354.22 L536.10,354.21 L536.40,354.21 L536.70,354.20 L537.00,354.19 L537.30,354.18 L537.60,354.17 L537.90,354.16 L538.20,354.15 L538.50,354.14 L538.80,354.13 L539.10,354.12 L539.40,354.12 L539.70,354.11 L540.00,354.10 L540.30,354.09 L540.60,354.08 L540.90,354.07 L541.20,354.06 L541.50,354.05 L541.80,354.05 L542.10,354.04 L542.40,354.03 L542.70,354.02 L542.80,354.02" stroke="#1e1e1e" stroke-width="1.5" fill="none" stroke-linejoin="round" stroke-linecap="butt"/>
<line x1="475.70" y1="360.40" x2="475.70" y2="344.10" stroke="#1e1e1e" stroke-width="1.3"/>
<path d="M477,352.2 L479.4,349.4 L480.3,352.2" stroke="#1e1e1e" stroke-width="1.2" fill="none"/>
<path d="M598.40,353.50 L603.40,353.50 L603.70,360.29 L604.00,367.09 L604.30,373.88 L604.60,380.67 L604.90,387.47 L605.20,394.26 L605.50,401.05 L605.80,407.85 L606.10,414.64 L606.40,421.44 L606.50,423.70 L606.80,421.86 L607.10,419.02 L607.40,415.71 L607.70,412.14 L608.00,408.44 L608.30,404.71 L608.60,401.02 L608.90,397.41 L609.20,393.93 L609.50,390.60 L609.80,387.44 L610.10,384.46 L610.40,381.68 L610.70,379.09 L611.00,376.69 L611.30,374.47 L611.60,372.44 L611.90,370.59 L612.20,368.90 L612.50,367.36 L612.80,365.97 L613.10,364.72 L613.40,363.59 L613.70,362.58 L614.00,361.68 L614.30,360.87 L614.60,360.14 L614.90,359.50 L615.20,358.93 L615.50,358.43 L615.80,357.98 L616.10,357.58 L616.40,357.23 L616.70,356.92 L617.00,356.64 L617.30,356.40 L617.60,356.19 L617.90,356.00 L618.20,355.83 L618.50,355.68 L618.80,355.54 L619.10,355.43 L619.40,355.32 L619.70,355.22 L620.00,355.14 L620.30,355.06 L620.60,354.99 L620.90,354.93 L621.20,354.87 L621.50,354.82 L621.80,354.77 L622.10,354.73 L622.40,354.69 L622.70,354.65 L623.00,354.61 L623.30,354.58 L623.60,354.54 L623.90,354.51 L624.20,354.49 L624.50,354.46 L624.80,354.43 L625.10,354.41 L625.40,354.38 L625.70,354.36 L626.00,354.34 L626.30,354.31 L626.60,354.29 L626.90,354.27 L627.20,354.25 L627.50,354.23 L627.80,354.22 L628.10,354.20 L628.40,354.18 L628.70,354.16 L629.00,354.15 L629.30,354.13 L629.60,354.12 L629.90,354.10 L630.20,354.08 L630.50,354.07 L630.80,354.06 L631.10,354.04 L631.40,354.03 L631.70,354.02 L632.00,354.00 L632.30,353.99 L632.60,353.98 L632.90,353.97 L633.20,353.96 L633.50,353.94 L633.80,353.93 L634.10,353.92 L634.40,353.91 L634.70,353.90 L635.00,353.89 L635.30,353.88 L635.60,353.87 L635.90,353.86 L636.20,353.85 L636.50,353.85 L636.80,353.84 L637.10,353.83 L637.40,353.82 L637.70,353.81 L638.00,353.81 L638.30,353.80 L638.60,353.79 L638.90,353.78 L639.20,353.78 L639.50,353.77 L639.80,353.76 L640.10,353.76 L640.40,353.75 L640.70,353.74 L641.00,353.74 L641.30,353.73 L641.60,353.73 L641.90,353.72 L642.20,353.72 L642.50,353.71 L642.80,353.70 L643.10,353.70 L643.40,353.69 L643.70,353.69 L644.00,353.69 L644.30,353.68 L644.60,353.68 L644.90,353.67 L645.20,353.67 L645.50,353.66 L645.80,353.66 L646.10,353.66 L646.40,353.65 L646.70,353.65 L647.00,353.64 L647.30,353.64 L647.60,353.64 L647.90,353.63 L648.20,353.63 L648.50,353.63 L648.80,353.62 L649.10,353.62 L649.40,353.62 L649.70,353.62 L650.00,353.61 L650.30,353.61 L650.60,353.61 L650.90,353.60 L651.20,353.60 L651.50,353.60 L651.80,353.60 L652.10,353.59 L652.40,353.59 L652.70,353.59 L653.00,353.59 L653.30,353.59 L653.60,353.58 L653.90,353.58 L654.20,353.58 L725.50,353.50" stroke="#1e1e1e" stroke-width="1.0" fill="none" stroke-linejoin="round" stroke-linecap="butt"/>
<line x1="598.40" y1="363.00" x2="598.40" y2="349.00" stroke="#1e1e1e" stroke-width="1.0"/>
<path d="M608.80,353.50 L613.80,353.50 L614.10,360.89 L614.40,368.29 L614.70,375.68 L615.00,383.07 L615.30,390.47 L615.60,397.86 L615.90,405.25 L616.20,412.65 L616.50,420.04 L616.80,427.44 L616.90,429.90 L617.20,427.90 L617.50,424.81 L617.80,421.20 L618.10,417.31 L618.40,413.29 L618.70,409.23 L619.00,405.21 L619.30,401.29 L619.60,397.50 L619.90,393.87 L620.20,390.44 L620.50,387.20 L620.80,384.17 L621.10,381.35 L621.40,378.73 L621.70,376.33 L622.00,374.12 L622.30,372.10 L622.60,370.26 L622.90,368.59 L623.20,367.07 L623.50,365.71 L623.80,364.48 L624.10,363.38 L624.40,362.40 L624.70,361.52 L625.00,360.73 L625.30,360.03 L625.60,359.41 L625.90,358.86 L626.20,358.37 L626.50,357.94 L626.80,357.56 L627.10,357.22 L627.40,356.92 L627.70,356.66 L628.00,356.42 L628.30,356.22 L628.60,356.03 L628.90,355.87 L629.20,355.72 L629.50,355.60 L629.80,355.48 L630.10,355.38 L630.40,355.28 L630.70,355.20 L631.00,355.13 L631.30,355.06 L631.60,354.99 L631.90,354.94 L632.20,354.88 L632.50,354.84 L632.80,354.79 L633.10,354.75 L633.40,354.71 L633.70,354.67 L634.00,354.64 L634.30,354.60 L634.60,354.57 L634.90,354.54 L635.20,354.51 L635.50,354.49 L635.80,354.46 L636.10,354.43 L636.40,354.41 L636.70,354.39 L637.00,354.36 L637.30,354.34 L637.60,354.32 L637.90,354.30 L638.20,354.28 L638.50,354.26 L638.80,354.24 L639.10,354.22 L639.40,354.20 L639.70,354.19 L640.00,354.17 L640.30,354.15 L640.60,354.14 L640.90,354.12 L641.20,354.11 L641.50,354.09 L641.80,354.08 L642.10,354.06 L642.40,354.05 L642.70,354.03 L643.00,354.02 L643.30,354.01 L643.60,354.00 L643.90,353.98 L644.20,353.97 L644.50,353.96 L644.80,353.95 L645.10,353.94 L645.40,353.93 L645.70,353.92 L646.00,353.91 L646.30,353.90 L646.60,353.89 L646.90,353.88 L647.20,353.87 L647.50,353.86 L647.80,353.85 L648.10,353.84 L648.40,353.83 L648.70,353.82 L649.00,353.82 L649.30,353.81 L649.60,353.80 L649.90,353.79 L650.20,353.79 L650.50,353.78 L650.80,353.77 L651.10,353.77 L651.40,353.76 L651.70,353.75 L652.00,353.75 L652.30,353.74 L652.60,353.73 L652.90,353.73 L653.20,353.72 L653.50,353.72 L653.80,353.71 L654.10,353.71 L654.40,353.70 L654.70,353.70 L655.00,353.69 L655.30,353.69 L655.60,353.68 L655.90,353.68 L656.20,353.67 L656.50,353.67 L656.80,353.66 L657.10,353.66 L657.40,353.66 L657.70,353.65 L658.00,353.65 L658.30,353.65 L658.60,353.64 L658.90,353.64 L659.20,353.64 L659.50,353.63 L659.80,353.63 L660.10,353.63 L660.40,353.62 L660.70,353.62 L661.00,353.62 L661.30,353.61 L661.60,353.61 L661.90,353.61 L662.20,353.61 L662.50,353.60 L662.80,353.60 L663.10,353.60 L663.40,353.60 L663.70,353.59 L664.00,353.59 L664.30,353.59 L664.60,353.59 L664.90,353.58 L665.20,353.58 L665.50,353.58 L725.50,353.50" stroke="#1e1e1e" stroke-width="1.0" fill="none" stroke-linejoin="round" stroke-linecap="butt"/>
<line x1="608.60" y1="363.00" x2="608.60" y2="349.00" stroke="#1e1e1e" stroke-width="1.0"/>
<path d="M679.90,353.50 L684.90,353.50 L685.20,361.70 L685.50,369.91 L685.80,378.11 L686.10,386.31 L686.40,394.52 L686.70,402.72 L687.00,410.92 L687.30,419.13 L687.60,427.33 L687.80,432.80 L688.10,430.72 L688.40,427.51 L688.70,423.77 L689.00,419.74 L689.30,415.56 L689.60,411.35 L689.90,407.18 L690.20,403.10 L690.50,399.17 L690.80,395.41 L691.10,391.84 L691.40,388.48 L691.70,385.33 L692.00,382.40 L692.30,379.69 L692.60,377.19 L692.90,374.90 L693.20,372.80 L693.50,370.89 L693.80,369.16 L694.10,367.59 L694.40,366.17 L694.70,364.90 L695.00,363.76 L695.30,362.73 L695.60,361.82 L695.90,361.01 L696.20,360.28 L696.50,359.64 L696.80,359.07 L697.10,358.56 L697.40,358.11 L697.70,357.71 L698.00,357.36 L698.30,357.05 L698.60,356.78 L698.90,356.53 L699.20,356.32 L699.50,356.13 L699.80,355.96 L700.10,355.81 L700.40,355.68 L700.70,355.56 L701.00,355.45 L701.30,355.35 L701.60,355.27 L701.90,355.19 L702.20,355.12 L702.50,355.05 L702.80,354.99 L703.10,354.94 L703.40,354.89 L703.70,354.84 L704.00,354.80 L704.30,354.75 L704.60,354.72 L704.90,354.68 L705.20,354.65 L705.50,354.61 L705.80,354.58 L706.10,354.55 L706.40,354.52 L706.70,354.50 L707.00,354.47 L707.30,354.44 L707.60,354.42 L707.90,354.40 L708.20,354.37 L708.50,354.35 L708.80,354.33 L709.10,354.31 L709.40,354.29 L709.70,354.27 L710.00,354.25 L710.30,354.23 L710.60,354.21 L710.90,354.19 L711.20,354.18 L711.50,354.16 L711.80,354.14 L712.10,354.13 L712.40,354.11 L712.70,354.10 L713.00,354.08 L713.30,354.07 L713.60,354.05 L713.90,354.04 L714.20,354.03 L714.50,354.01 L714.80,354.00 L715.10,353.99 L715.40,353.98 L715.70,353.97 L716.00,353.95 L716.30,353.94 L716.60,353.93 L716.90,353.92 L717.20,353.91 L717.50,353.90 L717.80,353.89 L718.10,353.88 L718.40,353.87 L718.70,353.86 L719.00,353.85 L719.30,353.84 L719.60,353.84 L719.90,353.83 L720.20,353.82 L720.50,353.81 L720.80,353.80 L721.10,353.80 L721.40,353.79 L721.70,353.78 L722.00,353.78 L722.30,353.77 L722.60,353.76 L722.90,353.76 L723.20,353.75 L723.50,353.74 L723.80,353.74 L724.10,353.73 L724.40,353.73 L724.70,353.72 L725.00,353.71 L725.30,353.71 L725.50,353.71" stroke="#1e1e1e" stroke-width="1.0" fill="none" stroke-linejoin="round" stroke-linecap="butt"/>
<line x1="679.40" y1="363.00" x2="679.40" y2="349.00" stroke="#1e1e1e" stroke-width="1.0"/>
<path d="M585.00,353.50 L591.10,353.50 L591.40,354.38 L591.70,355.25 L592.00,356.13 L592.30,357.01 L592.60,357.88 L592.90,358.76 L593.20,359.63 L593.50,360.51 L593.80,361.39 L594.10,362.26 L594.40,363.14 L594.70,364.02 L594.90,364.60 L595.20,364.15 L595.50,363.29 L595.80,362.24 L596.10,361.10 L596.40,359.96 L596.70,358.87 L597.00,357.89 L597.30,357.02 L597.60,356.27 L597.90,355.65 L598.20,355.14 L598.50,354.73 L598.80,354.41 L599.10,354.17 L599.40,353.98 L599.70,353.84 L600.00,353.74 L600.30,353.67 L600.60,353.61 L600.90,353.58 L725.50,353.50" stroke="#1e1e1e" stroke-width="1.0" fill="none" stroke-linejoin="round" stroke-linecap="butt"/>
<path d="M550.00,353.50 L725.50,353.50" stroke="#1e1e1e" stroke-width="2.6" fill="none" stroke-linejoin="round" stroke-linecap="butt"/>
<path d="M572.8,344.3 L572.8,365.6 M573.8,344.3 L573.8,365.6 M574.9,349.5 L574.9,360 M576,351.5 L576,358.5 M577.1,352 L577.1,358 M578.2,352 L578.2,357.5 M579.3,352.5 L579.3,357 M580.4,353 L580.4,356" stroke="#1e1e1e" stroke-width="0.9" fill="none"/>
<line x1="583.50" y1="362.80" x2="583.50" y2="350.60" stroke="#1e1e1e" stroke-width="1.0"/>
<path d="M65.6,572.6 H67.6 V748.3 H63.599999999999994" stroke="#2b2b2b" stroke-width="1.2" fill="none"/>
<line x1="63.60" y1="716.26" x2="67.60" y2="716.26" stroke="#2b2b2b" stroke-width="1.1"/>
<line x1="63.60" y1="684.32" x2="67.60" y2="684.32" stroke="#2b2b2b" stroke-width="1.1"/>
<line x1="63.60" y1="652.38" x2="67.60" y2="652.38" stroke="#2b2b2b" stroke-width="1.1"/>
<line x1="63.60" y1="620.44" x2="67.60" y2="620.44" stroke="#2b2b2b" stroke-width="1.1"/>
<line x1="63.60" y1="588.50" x2="67.60" y2="588.50" stroke="#2b2b2b" stroke-width="1.1"/>
<line x1="65.40" y1="732.23" x2="67.60" y2="732.23" stroke="#2b2b2b" stroke-width="1.0"/>
<line x1="65.40" y1="700.29" x2="67.60" y2="700.29" stroke="#2b2b2b" stroke-width="1.0"/>
<line x1="65.40" y1="668.35" x2="67.60" y2="668.35" stroke="#2b2b2b" stroke-width="1.0"/>
<line x1="65.40" y1="636.41" x2="67.60" y2="636.41" stroke="#2b2b2b" stroke-width="1.0"/>
<line x1="65.40" y1="604.47" x2="67.60" y2="604.47" stroke="#2b2b2b" stroke-width="1.0"/>
<text x="34.25" y="750.40" font-size="19" fill="#231f20">0.0</text>
<text x="34.54" y="718.46" font-size="19" fill="#231f20">0.2</text>
<text x="34.16" y="686.52" font-size="19" fill="#231f20">0.4</text>
<text x="34.35" y="654.58" font-size="19" fill="#231f20">0.6</text>
<text x="34.35" y="622.64" font-size="19" fill="#231f20">0.8</text>
<text x="34.25" y="590.70" font-size="19" fill="#231f20">1.0</text>
<path d="M92.1,751.6 V748.4 H327.8" stroke="#2b2b2b" stroke-width="1.2" fill="none"/>
<line x1="169.60" y1="748.00" x2="169.60" y2="751.60" stroke="#2b2b2b" stroke-width="1.1"/>
<line x1="247.10" y1="748.00" x2="247.10" y2="751.60" stroke="#2b2b2b" stroke-width="1.1"/>
<line x1="324.60" y1="748.00" x2="324.60" y2="751.60" stroke="#2b2b2b" stroke-width="1.1"/>
<line x1="115.43" y1="748.00" x2="115.43" y2="750.60" stroke="#2b2b2b" stroke-width="0.9"/>
<line x1="129.08" y1="748.00" x2="129.08" y2="750.60" stroke="#2b2b2b" stroke-width="0.9"/>
<line x1="138.76" y1="748.00" x2="138.76" y2="750.60" stroke="#2b2b2b" stroke-width="0.9"/>
<line x1="146.27" y1="748.00" x2="146.27" y2="750.60" stroke="#2b2b2b" stroke-width="0.9"/>
<line x1="152.41" y1="748.00" x2="152.41" y2="750.60" stroke="#2b2b2b" stroke-width="0.9"/>
<line x1="157.60" y1="748.00" x2="157.60" y2="750.60" stroke="#2b2b2b" stroke-width="0.9"/>
<line x1="162.09" y1="748.00" x2="162.09" y2="750.60" stroke="#2b2b2b" stroke-width="0.9"/>
<line x1="166.05" y1="748.00" x2="166.05" y2="750.60" stroke="#2b2b2b" stroke-width="0.9"/>
<line x1="192.93" y1="748.00" x2="192.93" y2="750.60" stroke="#2b2b2b" stroke-width="0.9"/>
<line x1="206.58" y1="748.00" x2="206.58" y2="750.60" stroke="#2b2b2b" stroke-width="0.9"/>
<line x1="216.26" y1="748.00" x2="216.26" y2="750.60" stroke="#2b2b2b" stroke-width="0.9"/>
<line x1="223.77" y1="748.00" x2="223.77" y2="750.60" stroke="#2b2b2b" stroke-width="0.9"/>
<line x1="229.91" y1="748.00" x2="229.91" y2="750.60" stroke="#2b2b2b" stroke-width="0.9"/>
<line x1="235.10" y1="748.00" x2="235.10" y2="750.60" stroke="#2b2b2b" stroke-width="0.9"/>
<line x1="239.59" y1="748.00" x2="239.59" y2="750.60" stroke="#2b2b2b" stroke-width="0.9"/>
<line x1="243.55" y1="748.00" x2="243.55" y2="750.60" stroke="#2b2b2b" stroke-width="0.9"/>
<line x1="270.43" y1="748.00" x2="270.43" y2="750.60" stroke="#2b2b2b" stroke-width="0.9"/>
<line x1="284.08" y1="748.00" x2="284.08" y2="750.60" stroke="#2b2b2b" stroke-width="0.9"/>
<line x1="293.76" y1="748.00" x2="293.76" y2="750.60" stroke="#2b2b2b" stroke-width="0.9"/>
<line x1="301.27" y1="748.00" x2="301.27" y2="750.60" stroke="#2b2b2b" stroke-width="0.9"/>
<line x1="307.41" y1="748.00" x2="307.41" y2="750.60" stroke="#2b2b2b" stroke-width="0.9"/>
<line x1="312.60" y1="748.00" x2="312.60" y2="750.60" stroke="#2b2b2b" stroke-width="0.9"/>
<line x1="317.09" y1="748.00" x2="317.09" y2="750.60" stroke="#2b2b2b" stroke-width="0.9"/>
<line x1="321.05" y1="748.00" x2="321.05" y2="750.60" stroke="#2b2b2b" stroke-width="0.9"/>
<text x="90.86" y="770.90" font-size="19" fill="#231f20" textLength="9.21" lengthAdjust="spacingAndGlyphs">1</text>
<text x="166.47" y="770.90" font-size="19" fill="#231f20" textLength="19.80" lengthAdjust="spacingAndGlyphs">10</text>
<text x="241.80" y="770.90" font-size="19" fill="#231f20" textLength="31.12" lengthAdjust="spacingAndGlyphs">100</text>
<text x="317.52" y="770.90" font-size="19" fill="#231f20" textLength="46.17" lengthAdjust="spacingAndGlyphs">1,000</text>
<text x="125.27" y="792.60" font-size="19" font-weight="bold" fill="#231f20" textLength="186.48" lengthAdjust="spacingAndGlyphs">Inter-pulse time (ms)</text>
<text x="81.77" y="571.80" font-size="19" font-weight="bold" fill="#231f20" textLength="82.93" lengthAdjust="spacingAndGlyphs">HEK293T</text>
<text transform="translate(14.40,750.3) rotate(-90)" font-size="19" font-weight="bold" fill="#231f20">I<tspan font-size="14.6" dy="5.1">Na (pulse2)</tspan><tspan dy="-5.1">/ I</tspan><tspan font-size="14.6" dy="5.1">Na (pulse1)</tspan></text>
<path d="M92.10,735.50 C96.30,728.75 111.05,705.57 117.30,695.00 C123.55,684.43 125.12,680.35 129.60,672.10 C134.08,663.85 139.53,652.97 144.20,645.50 C148.87,638.03 153.28,632.05 157.60,627.30 C161.92,622.55 165.03,619.67 170.10,617.00 C175.17,614.33 181.95,612.87 188.00,611.30 C194.05,609.73 201.07,608.55 206.40,607.60 C211.73,606.65 215.20,606.43 220.00,605.60 C224.80,604.77 230.67,603.57 235.20,602.60 C239.73,601.63 242.00,601.05 247.20,599.80 C252.40,598.55 260.22,596.30 266.40,595.10 C272.58,593.90 276.65,593.58 284.30,592.60 C291.95,591.62 305.57,589.77 312.30,589.20 C319.03,588.63 322.63,589.20 324.70,589.20" stroke="#c4c4c4" stroke-width="1.3" fill="none"/>
<line x1="92.10" y1="734.30" x2="92.10" y2="740.30" stroke="#bbb" stroke-width="1.0"/>
<line x1="90.30" y1="734.30" x2="93.90" y2="734.30" stroke="#bbb" stroke-width="0.9"/>
<line x1="90.30" y1="740.30" x2="93.90" y2="740.30" stroke="#bbb" stroke-width="0.9"/>
<rect x="89.90" y="735.10" width="4.4" height="4.4" fill="#c6c6c6"/>
<line x1="129.60" y1="667.50" x2="129.60" y2="675.50" stroke="#bbb" stroke-width="1.0"/>
<line x1="127.80" y1="667.50" x2="131.40" y2="667.50" stroke="#bbb" stroke-width="0.9"/>
<line x1="127.80" y1="675.50" x2="131.40" y2="675.50" stroke="#bbb" stroke-width="0.9"/>
<rect x="127.40" y="669.30" width="4.4" height="4.4" fill="#c6c6c6"/>
<line x1="157.60" y1="622.00" x2="157.60" y2="632.00" stroke="#bbb" stroke-width="1.0"/>
<line x1="155.80" y1="622.00" x2="159.40" y2="622.00" stroke="#bbb" stroke-width="0.9"/>
<line x1="155.80" y1="632.00" x2="159.40" y2="632.00" stroke="#bbb" stroke-width="0.9"/>
<rect x="155.40" y="624.80" width="4.4" height="4.4" fill="#c6c6c6"/>
<line x1="170.10" y1="612.90" x2="170.10" y2="622.90" stroke="#bbb" stroke-width="1.0"/>
<line x1="168.30" y1="612.90" x2="171.90" y2="612.90" stroke="#bbb" stroke-width="0.9"/>
<line x1="168.30" y1="622.90" x2="171.90" y2="622.90" stroke="#bbb" stroke-width="0.9"/>
<rect x="167.90" y="615.70" width="4.4" height="4.4" fill="#c6c6c6"/>
<line x1="206.40" y1="604.10" x2="206.40" y2="611.10" stroke="#bbb" stroke-width="1.0"/>
<line x1="204.60" y1="604.10" x2="208.20" y2="604.10" stroke="#bbb" stroke-width="0.9"/>
<line x1="204.60" y1="611.10" x2="208.20" y2="611.10" stroke="#bbb" stroke-width="0.9"/>
<rect x="204.20" y="605.40" width="4.4" height="4.4" fill="#c6c6c6"/>
<line x1="235.20" y1="598.40" x2="235.20" y2="606.40" stroke="#bbb" stroke-width="1.0"/>
<line x1="233.40" y1="598.40" x2="237.00" y2="598.40" stroke="#bbb" stroke-width="0.9"/>
<line x1="233.40" y1="606.40" x2="237.00" y2="606.40" stroke="#bbb" stroke-width="0.9"/>
<rect x="233.00" y="600.20" width="4.4" height="4.4" fill="#c6c6c6"/>
<line x1="247.20" y1="596.10" x2="247.20" y2="604.10" stroke="#bbb" stroke-width="1.0"/>
<line x1="245.40" y1="596.10" x2="249.00" y2="596.10" stroke="#bbb" stroke-width="0.9"/>
<line x1="245.40" y1="604.10" x2="249.00" y2="604.10" stroke="#bbb" stroke-width="0.9"/>
<rect x="245.00" y="597.90" width="4.4" height="4.4" fill="#c6c6c6"/>
<line x1="284.30" y1="590.80" x2="284.30" y2="594.80" stroke="#bbb" stroke-width="1.0"/>
<line x1="282.50" y1="590.80" x2="286.10" y2="590.80" stroke="#bbb" stroke-width="0.9"/>
<line x1="282.50" y1="594.80" x2="286.10" y2="594.80" stroke="#bbb" stroke-width="0.9"/>
<rect x="282.10" y="590.60" width="4.4" height="4.4" fill="#c6c6c6"/>
<line x1="312.30" y1="588.20" x2="312.30" y2="590.20" stroke="#bbb" stroke-width="1.0"/>
<line x1="310.50" y1="588.20" x2="314.10" y2="588.20" stroke="#bbb" stroke-width="0.9"/>
<line x1="310.50" y1="590.20" x2="314.10" y2="590.20" stroke="#bbb" stroke-width="0.9"/>
<rect x="310.10" y="587.00" width="4.4" height="4.4" fill="#c6c6c6"/>
<line x1="324.70" y1="588.20" x2="324.70" y2="590.20" stroke="#bbb" stroke-width="1.0"/>
<line x1="322.90" y1="588.20" x2="326.50" y2="588.20" stroke="#bbb" stroke-width="0.9"/>
<line x1="322.90" y1="590.20" x2="326.50" y2="590.20" stroke="#bbb" stroke-width="0.9"/>
<rect x="322.50" y="587.00" width="4.4" height="4.4" fill="#c6c6c6"/>
<path d="M92.10,728.60 C95.65,722.97 107.15,705.20 113.40,694.80 C119.65,684.40 124.67,674.80 129.60,666.20 C134.53,657.60 138.33,650.40 143.00,643.20 C147.67,636.00 153.08,627.98 157.60,623.00 C162.12,618.02 165.03,616.05 170.10,613.30 C175.17,610.55 181.95,608.80 188.00,606.50 C194.05,604.20 201.07,601.17 206.40,599.50 C211.73,597.83 215.20,597.53 220.00,596.50 C224.80,595.47 230.67,594.18 235.20,593.30 C239.73,592.42 242.78,591.92 247.20,591.20 C251.62,590.48 255.52,589.48 261.70,589.00 C267.88,588.52 275.87,588.47 284.30,588.30 C292.73,588.13 305.57,588.03 312.30,588.00 C319.03,587.97 322.63,588.08 324.70,588.10" stroke="#1e1e1e" stroke-width="1.45" fill="none"/>
<line x1="92.10" y1="724.60" x2="92.10" y2="732.60" stroke="#333" stroke-width="1.0"/>
<line x1="90.30" y1="724.60" x2="93.90" y2="724.60" stroke="#333" stroke-width="0.9"/>
<line x1="90.30" y1="732.60" x2="93.90" y2="732.60" stroke="#333" stroke-width="0.9"/>
<rect x="89.90" y="726.40" width="4.4" height="4.4" fill="#1e1e1e"/>
<line x1="129.60" y1="661.20" x2="129.60" y2="669.20" stroke="#333" stroke-width="1.0"/>
<line x1="127.80" y1="661.20" x2="131.40" y2="661.20" stroke="#333" stroke-width="0.9"/>
<line x1="127.80" y1="669.20" x2="131.40" y2="669.20" stroke="#333" stroke-width="0.9"/>
<rect x="127.40" y="663.00" width="4.4" height="4.4" fill="#1e1e1e"/>
<line x1="157.60" y1="620.50" x2="157.60" y2="625.50" stroke="#333" stroke-width="1.0"/>
<line x1="155.80" y1="620.50" x2="159.40" y2="620.50" stroke="#333" stroke-width="0.9"/>
<line x1="155.80" y1="625.50" x2="159.40" y2="625.50" stroke="#333" stroke-width="0.9"/>
<rect x="155.40" y="620.80" width="4.4" height="4.4" fill="#1e1e1e"/>
<line x1="170.10" y1="611.30" x2="170.10" y2="615.30" stroke="#333" stroke-width="1.0"/>
<line x1="168.30" y1="611.30" x2="171.90" y2="611.30" stroke="#333" stroke-width="0.9"/>
<line x1="168.30" y1="615.30" x2="171.90" y2="615.30" stroke="#333" stroke-width="0.9"/>
<rect x="167.90" y="611.10" width="4.4" height="4.4" fill="#1e1e1e"/>
<line x1="206.40" y1="598.00" x2="206.40" y2="601.00" stroke="#333" stroke-width="1.0"/>
<line x1="204.60" y1="598.00" x2="208.20" y2="598.00" stroke="#333" stroke-width="0.9"/>
<line x1="204.60" y1="601.00" x2="208.20" y2="601.00" stroke="#333" stroke-width="0.9"/>
<rect x="204.20" y="597.30" width="4.4" height="4.4" fill="#1e1e1e"/>
<line x1="235.20" y1="591.80" x2="235.20" y2="594.80" stroke="#333" stroke-width="1.0"/>
<line x1="233.40" y1="591.80" x2="237.00" y2="591.80" stroke="#333" stroke-width="0.9"/>
<line x1="233.40" y1="594.80" x2="237.00" y2="594.80" stroke="#333" stroke-width="0.9"/>
<rect x="233.00" y="591.10" width="4.4" height="4.4" fill="#1e1e1e"/>
<line x1="247.20" y1="590.70" x2="247.20" y2="592.70" stroke="#333" stroke-width="1.0"/>
<line x1="245.40" y1="590.70" x2="249.00" y2="590.70" stroke="#333" stroke-width="0.9"/>
<line x1="245.40" y1="592.70" x2="249.00" y2="592.70" stroke="#333" stroke-width="0.9"/>
<rect x="245.00" y="589.50" width="4.4" height="4.4" fill="#1e1e1e"/>
<line x1="284.30" y1="587.60" x2="284.30" y2="589.60" stroke="#333" stroke-width="1.0"/>
<line x1="282.50" y1="587.60" x2="286.10" y2="587.60" stroke="#333" stroke-width="0.9"/>
<line x1="282.50" y1="589.60" x2="286.10" y2="589.60" stroke="#333" stroke-width="0.9"/>
<rect x="282.10" y="586.40" width="4.4" height="4.4" fill="#1e1e1e"/>
<line x1="312.30" y1="586.90" x2="312.30" y2="588.90" stroke="#333" stroke-width="1.0"/>
<line x1="310.50" y1="586.90" x2="314.10" y2="586.90" stroke="#333" stroke-width="0.9"/>
<line x1="310.50" y1="588.90" x2="314.10" y2="588.90" stroke="#333" stroke-width="0.9"/>
<rect x="310.10" y="585.70" width="4.4" height="4.4" fill="#1e1e1e"/>
<line x1="324.70" y1="587.10" x2="324.70" y2="589.10" stroke="#333" stroke-width="1.0"/>
<line x1="322.90" y1="587.10" x2="326.50" y2="587.10" stroke="#333" stroke-width="0.9"/>
<line x1="322.90" y1="589.10" x2="326.50" y2="589.10" stroke="#333" stroke-width="0.9"/>
<rect x="322.50" y="585.90" width="4.4" height="4.4" fill="#1e1e1e"/>
<rect x="310.10" y="586.40" width="4.4" height="4.4" fill="#505050"/>
<rect x="322.50" y="586.40" width="4.4" height="4.4" fill="#b8b8b8"/>
<path d="M259.1,654.6 H277.8" stroke="#333" stroke-width="1.6" fill="none"/>
<rect x="266.30" y="652.40" width="4.4" height="4.4" fill="#1e1e1e"/>
<path d="M259.1,672.1 H277.8" stroke="#c4c4c4" stroke-width="1.3" fill="none"/>
<rect x="266.30" y="669.90" width="4.4" height="4.4" fill="#c6c6c6"/>
<text x="284.61" y="657.20" font-size="19" fill="#231f20" textLength="28.86" lengthAdjust="spacingAndGlyphs">WT</text>
<text x="284.70" y="677.90" font-size="19" fill="#231f20" textLength="54.84" lengthAdjust="spacingAndGlyphs">A735V</text>
<path d="M469.3,572.6 H471.3 V748.3 H467.3" stroke="#2b2b2b" stroke-width="1.2" fill="none"/>
<line x1="467.30" y1="716.26" x2="471.30" y2="716.26" stroke="#2b2b2b" stroke-width="1.1"/>
<line x1="467.30" y1="684.32" x2="471.30" y2="684.32" stroke="#2b2b2b" stroke-width="1.1"/>
<line x1="467.30" y1="652.38" x2="471.30" y2="652.38" stroke="#2b2b2b" stroke-width="1.1"/>
<line x1="467.30" y1="620.44" x2="471.30" y2="620.44" stroke="#2b2b2b" stroke-width="1.1"/>
<line x1="467.30" y1="588.50" x2="471.30" y2="588.50" stroke="#2b2b2b" stroke-width="1.1"/>
<line x1="469.10" y1="732.23" x2="471.30" y2="732.23" stroke="#2b2b2b" stroke-width="1.0"/>
<line x1="469.10" y1="700.29" x2="471.30" y2="700.29" stroke="#2b2b2b" stroke-width="1.0"/>
<line x1="469.10" y1="668.35" x2="471.30" y2="668.35" stroke="#2b2b2b" stroke-width="1.0"/>
<line x1="469.10" y1="636.41" x2="471.30" y2="636.41" stroke="#2b2b2b" stroke-width="1.0"/>
<line x1="469.10" y1="604.47" x2="471.30" y2="604.47" stroke="#2b2b2b" stroke-width="1.0"/>
<text x="437.95" y="750.40" font-size="19" fill="#231f20">0.0</text>
<text x="438.24" y="718.46" font-size="19" fill="#231f20">0.2</text>
<text x="437.86" y="686.52" font-size="19" fill="#231f20">0.4</text>
<text x="438.05" y="654.58" font-size="19" fill="#231f20">0.6</text>
<text x="438.05" y="622.64" font-size="19" fill="#231f20">0.8</text>
<text x="437.95" y="590.70" font-size="19" fill="#231f20">1.0</text>
<path d="M495.6,751.6 V748.4 H734.1" stroke="#2b2b2b" stroke-width="1.2" fill="none"/>
<line x1="572.50" y1="748.00" x2="572.50" y2="751.60" stroke="#2b2b2b" stroke-width="1.1"/>
<line x1="652.00" y1="748.00" x2="652.00" y2="751.60" stroke="#2b2b2b" stroke-width="1.1"/>
<line x1="731.50" y1="748.00" x2="731.50" y2="751.60" stroke="#2b2b2b" stroke-width="1.1"/>
<line x1="516.93" y1="748.00" x2="516.93" y2="750.60" stroke="#2b2b2b" stroke-width="0.9"/>
<line x1="530.93" y1="748.00" x2="530.93" y2="750.60" stroke="#2b2b2b" stroke-width="0.9"/>
<line x1="540.86" y1="748.00" x2="540.86" y2="750.60" stroke="#2b2b2b" stroke-width="0.9"/>
<line x1="548.57" y1="748.00" x2="548.57" y2="750.60" stroke="#2b2b2b" stroke-width="0.9"/>
<line x1="554.86" y1="748.00" x2="554.86" y2="750.60" stroke="#2b2b2b" stroke-width="0.9"/>
<line x1="560.19" y1="748.00" x2="560.19" y2="750.60" stroke="#2b2b2b" stroke-width="0.9"/>
<line x1="564.80" y1="748.00" x2="564.80" y2="750.60" stroke="#2b2b2b" stroke-width="0.9"/>
<line x1="568.86" y1="748.00" x2="568.86" y2="750.60" stroke="#2b2b2b" stroke-width="0.9"/>
<line x1="596.43" y1="748.00" x2="596.43" y2="750.60" stroke="#2b2b2b" stroke-width="0.9"/>
<line x1="610.43" y1="748.00" x2="610.43" y2="750.60" stroke="#2b2b2b" stroke-width="0.9"/>
<line x1="620.36" y1="748.00" x2="620.36" y2="750.60" stroke="#2b2b2b" stroke-width="0.9"/>
<line x1="628.07" y1="748.00" x2="628.07" y2="750.60" stroke="#2b2b2b" stroke-width="0.9"/>
<line x1="634.36" y1="748.00" x2="634.36" y2="750.60" stroke="#2b2b2b" stroke-width="0.9"/>
<line x1="639.69" y1="748.00" x2="639.69" y2="750.60" stroke="#2b2b2b" stroke-width="0.9"/>
<line x1="644.30" y1="748.00" x2="644.30" y2="750.60" stroke="#2b2b2b" stroke-width="0.9"/>
<line x1="648.36" y1="748.00" x2="648.36" y2="750.60" stroke="#2b2b2b" stroke-width="0.9"/>
<line x1="675.93" y1="748.00" x2="675.93" y2="750.60" stroke="#2b2b2b" stroke-width="0.9"/>
<line x1="689.93" y1="748.00" x2="689.93" y2="750.60" stroke="#2b2b2b" stroke-width="0.9"/>
<line x1="699.86" y1="748.00" x2="699.86" y2="750.60" stroke="#2b2b2b" stroke-width="0.9"/>
<line x1="707.57" y1="748.00" x2="707.57" y2="750.60" stroke="#2b2b2b" stroke-width="0.9"/>
<line x1="713.86" y1="748.00" x2="713.86" y2="750.60" stroke="#2b2b2b" stroke-width="0.9"/>
<line x1="719.19" y1="748.00" x2="719.19" y2="750.60" stroke="#2b2b2b" stroke-width="0.9"/>
<line x1="723.80" y1="748.00" x2="723.80" y2="750.60" stroke="#2b2b2b" stroke-width="0.9"/>
<line x1="727.86" y1="748.00" x2="727.86" y2="750.60" stroke="#2b2b2b" stroke-width="0.9"/>
<text x="496.17" y="770.90" font-size="19" fill="#231f20" textLength="7.67" lengthAdjust="spacingAndGlyphs">1</text>
<text x="569.83" y="770.90" font-size="19" fill="#231f20" textLength="18.80" lengthAdjust="spacingAndGlyphs">10</text>
<text x="647.84" y="770.90" font-size="19" fill="#231f20" textLength="30.15" lengthAdjust="spacingAndGlyphs">100</text>
<text x="724.90" y="770.90" font-size="19" fill="#231f20" textLength="46.80" lengthAdjust="spacingAndGlyphs">1,000</text>
<text x="542.68" y="789.70" font-size="19" font-weight="bold" fill="#231f20" textLength="185.17" lengthAdjust="spacingAndGlyphs">Inter-pulse time (ms)</text>
<text x="482.47" y="571.80" font-size="19" font-weight="bold" fill="#231f20" textLength="92.03" lengthAdjust="spacingAndGlyphs">hiPSC-CM</text>
<text transform="translate(416.50,750.3) rotate(-90)" font-size="19" font-weight="bold" fill="#231f20">I<tspan font-size="14.6" dy="5.1">Na (pulse2)</tspan><tspan dy="-5.1">/ I</tspan><tspan font-size="14.6" dy="5.1">Na (pulse1)</tspan></text>
<path d="M572.40,685.70 C573.33,684.47 576.05,680.85 578.00,678.30 C579.95,675.75 581.92,673.02 584.10,670.40 C586.28,667.78 588.78,665.05 591.10,662.60 C593.42,660.15 595.83,657.87 598.00,655.70 C600.17,653.53 602.13,651.42 604.10,649.60 C606.07,647.78 607.62,646.68 609.80,644.80 C611.98,642.92 614.67,640.18 617.20,638.30 C619.73,636.42 621.28,635.12 625.00,633.50 C628.72,631.88 635.02,630.25 639.50,628.60 C643.98,626.95 647.37,625.47 651.90,623.60 C656.43,621.73 660.35,620.05 666.70,617.40 C673.05,614.75 683.78,610.57 690.00,607.70 C696.22,604.83 699.20,602.22 704.00,600.20 C708.80,598.18 714.25,596.88 718.80,595.60 C723.35,594.32 729.22,593.02 731.30,592.50" stroke="#c4c4c4" stroke-width="1.3" fill="none"/>
<line x1="572.40" y1="679.50" x2="572.40" y2="689.50" stroke="#bbb" stroke-width="1.0"/>
<line x1="570.60" y1="679.50" x2="574.20" y2="679.50" stroke="#bbb" stroke-width="0.9"/>
<line x1="570.60" y1="689.50" x2="574.20" y2="689.50" stroke="#bbb" stroke-width="0.9"/>
<rect x="570.20" y="682.30" width="4.4" height="4.4" fill="#c6c6c6"/>
<line x1="609.80" y1="639.40" x2="609.80" y2="650.20" stroke="#bbb" stroke-width="1.0"/>
<line x1="608.00" y1="639.40" x2="611.60" y2="639.40" stroke="#bbb" stroke-width="0.9"/>
<line x1="608.00" y1="650.20" x2="611.60" y2="650.20" stroke="#bbb" stroke-width="0.9"/>
<rect x="607.60" y="642.60" width="4.4" height="4.4" fill="#c6c6c6"/>
<line x1="639.50" y1="623.60" x2="639.50" y2="633.60" stroke="#bbb" stroke-width="1.0"/>
<line x1="637.70" y1="623.60" x2="641.30" y2="623.60" stroke="#bbb" stroke-width="0.9"/>
<line x1="637.70" y1="633.60" x2="641.30" y2="633.60" stroke="#bbb" stroke-width="0.9"/>
<rect x="637.30" y="626.40" width="4.4" height="4.4" fill="#c6c6c6"/>
<line x1="651.90" y1="618.60" x2="651.90" y2="628.60" stroke="#bbb" stroke-width="1.0"/>
<line x1="650.10" y1="618.60" x2="653.70" y2="618.60" stroke="#bbb" stroke-width="0.9"/>
<line x1="650.10" y1="628.60" x2="653.70" y2="628.60" stroke="#bbb" stroke-width="0.9"/>
<rect x="649.70" y="621.40" width="4.4" height="4.4" fill="#c6c6c6"/>
<line x1="690.00" y1="604.70" x2="690.00" y2="610.70" stroke="#bbb" stroke-width="1.0"/>
<line x1="688.20" y1="604.70" x2="691.80" y2="604.70" stroke="#bbb" stroke-width="0.9"/>
<line x1="688.20" y1="610.70" x2="691.80" y2="610.70" stroke="#bbb" stroke-width="0.9"/>
<rect x="687.80" y="605.50" width="4.4" height="4.4" fill="#c6c6c6"/>
<line x1="718.80" y1="594.10" x2="718.80" y2="597.10" stroke="#bbb" stroke-width="1.0"/>
<line x1="717.00" y1="594.10" x2="720.60" y2="594.10" stroke="#bbb" stroke-width="0.9"/>
<line x1="717.00" y1="597.10" x2="720.60" y2="597.10" stroke="#bbb" stroke-width="0.9"/>
<rect x="716.60" y="593.40" width="4.4" height="4.4" fill="#c6c6c6"/>
<line x1="731.30" y1="591.00" x2="731.30" y2="594.00" stroke="#bbb" stroke-width="1.0"/>
<line x1="729.50" y1="591.00" x2="733.10" y2="591.00" stroke="#bbb" stroke-width="0.9"/>
<line x1="729.50" y1="594.00" x2="733.10" y2="594.00" stroke="#bbb" stroke-width="0.9"/>
<rect x="729.10" y="590.30" width="4.4" height="4.4" fill="#c6c6c6"/>
<path d="M572.40,678.70 C572.62,677.47 573.12,674.27 573.70,671.30 C574.28,668.33 575.03,664.23 575.90,660.90 C576.77,657.57 577.67,654.50 578.90,651.30 C580.13,648.10 581.70,644.60 583.30,641.70 C584.90,638.80 586.62,636.35 588.50,633.90 C590.38,631.45 592.43,629.10 594.60,627.00 C596.77,624.90 598.97,623.12 601.50,621.30 C604.03,619.48 607.18,617.77 609.80,616.10 C612.42,614.43 614.67,612.90 617.20,611.30 C619.73,609.70 621.28,608.65 625.00,606.50 C628.72,604.35 635.02,600.48 639.50,598.40 C643.98,596.32 647.88,595.38 651.90,594.00 C655.92,592.62 659.83,590.93 663.60,590.10 C667.37,589.27 670.10,589.17 674.50,589.00 C678.90,588.83 682.62,589.12 690.00,589.10 C697.38,589.08 711.92,588.93 718.80,588.90 C725.68,588.87 729.22,588.90 731.30,588.90" stroke="#1e1e1e" stroke-width="1.45" fill="none"/>
<line x1="572.40" y1="667.70" x2="572.40" y2="689.70" stroke="#333" stroke-width="1.0"/>
<line x1="570.60" y1="667.70" x2="574.20" y2="667.70" stroke="#333" stroke-width="0.9"/>
<line x1="570.60" y1="689.70" x2="574.20" y2="689.70" stroke="#333" stroke-width="0.9"/>
<rect x="570.20" y="676.50" width="4.4" height="4.4" fill="#1e1e1e"/>
<line x1="609.80" y1="611.30" x2="609.80" y2="620.90" stroke="#333" stroke-width="1.0"/>
<line x1="608.00" y1="611.30" x2="611.60" y2="611.30" stroke="#333" stroke-width="0.9"/>
<line x1="608.00" y1="620.90" x2="611.60" y2="620.90" stroke="#333" stroke-width="0.9"/>
<rect x="607.60" y="613.90" width="4.4" height="4.4" fill="#1e1e1e"/>
<line x1="639.50" y1="597.40" x2="639.50" y2="599.40" stroke="#333" stroke-width="1.0"/>
<line x1="637.70" y1="597.40" x2="641.30" y2="597.40" stroke="#333" stroke-width="0.9"/>
<line x1="637.70" y1="599.40" x2="641.30" y2="599.40" stroke="#333" stroke-width="0.9"/>
<rect x="637.30" y="596.20" width="4.4" height="4.4" fill="#1e1e1e"/>
<line x1="651.90" y1="593.00" x2="651.90" y2="595.00" stroke="#333" stroke-width="1.0"/>
<line x1="650.10" y1="593.00" x2="653.70" y2="593.00" stroke="#333" stroke-width="0.9"/>
<line x1="650.10" y1="595.00" x2="653.70" y2="595.00" stroke="#333" stroke-width="0.9"/>
<rect x="649.70" y="591.80" width="4.4" height="4.4" fill="#1e1e1e"/>
<line x1="690.00" y1="588.30" x2="690.00" y2="590.30" stroke="#333" stroke-width="1.0"/>
<line x1="688.20" y1="588.30" x2="691.80" y2="588.30" stroke="#333" stroke-width="0.9"/>
<line x1="688.20" y1="590.30" x2="691.80" y2="590.30" stroke="#333" stroke-width="0.9"/>
<rect x="687.80" y="587.10" width="4.4" height="4.4" fill="#1e1e1e"/>
<line x1="718.80" y1="587.90" x2="718.80" y2="589.90" stroke="#333" stroke-width="1.0"/>
<line x1="717.00" y1="587.90" x2="720.60" y2="587.90" stroke="#333" stroke-width="0.9"/>
<line x1="717.00" y1="589.90" x2="720.60" y2="589.90" stroke="#333" stroke-width="0.9"/>
<rect x="716.60" y="586.70" width="4.4" height="4.4" fill="#1e1e1e"/>
<line x1="731.30" y1="587.90" x2="731.30" y2="589.90" stroke="#333" stroke-width="1.0"/>
<line x1="729.50" y1="587.90" x2="733.10" y2="587.90" stroke="#333" stroke-width="0.9"/>
<line x1="729.50" y1="589.90" x2="733.10" y2="589.90" stroke="#333" stroke-width="0.9"/>
<rect x="729.10" y="586.70" width="4.4" height="4.4" fill="#1e1e1e"/>
<path d="M669.5,654.6 H688.2" stroke="#333" stroke-width="1.6" fill="none"/>
<rect x="676.70" y="652.40" width="4.4" height="4.4" fill="#1e1e1e"/>
<path d="M669.5,672.1 H688.2" stroke="#c4c4c4" stroke-width="1.3" fill="none"/>
<rect x="676.70" y="669.90" width="4.4" height="4.4" fill="#c6c6c6"/>
<text x="695.01" y="657.20" font-size="19" fill="#231f20" textLength="28.86" lengthAdjust="spacingAndGlyphs">WT</text>
<text x="695.10" y="677.90" font-size="19" fill="#231f20" textLength="54.84" lengthAdjust="spacingAndGlyphs">A735V</text>
<path d="M66.8,894.9 V1087.3 H194.8" stroke="#2b2b2b" stroke-width="1.2" fill="none"/>
<line x1="61.40" y1="894.90" x2="66.80" y2="894.90" stroke="#2b2b2b" stroke-width="1.1"/>
<line x1="61.40" y1="958.90" x2="66.80" y2="958.90" stroke="#2b2b2b" stroke-width="1.1"/>
<line x1="61.40" y1="1022.90" x2="66.80" y2="1022.90" stroke="#2b2b2b" stroke-width="1.1"/>
<line x1="61.40" y1="1087.10" x2="66.80" y2="1087.10" stroke="#2b2b2b" stroke-width="1.1"/>
<text x="26.29" y="899.70" font-size="19.5" fill="#231f20" textLength="31.44" lengthAdjust="spacingAndGlyphs">100</text>
<text x="39.46" y="963.80" font-size="19.5" fill="#231f20" textLength="18.46" lengthAdjust="spacingAndGlyphs">10</text>
<text x="45.85" y="1027.80" font-size="19.5" fill="#231f20">1</text>
<text x="34.18" y="1088.40" font-size="19.5" fill="#231f20" textLength="24.93" lengthAdjust="spacingAndGlyphs">0.1</text>
<line x1="98.80" y1="1087.30" x2="98.80" y2="1092.70" stroke="#2b2b2b" stroke-width="1.1"/>
<line x1="163.10" y1="1087.30" x2="163.10" y2="1092.70" stroke="#2b2b2b" stroke-width="1.1"/>
<text x="66.77" y="865.50" font-size="19.5" font-weight="bold" fill="#231f20" textLength="82.93" lengthAdjust="spacingAndGlyphs">HEK293T</text>
<line x1="100.80" y1="930.20" x2="162.50" y2="930.20" stroke="#2b2b2b" stroke-width="1.3"/>
<text x="115.53" y="922.10" font-size="19.5" fill="#231f20" textLength="20.68" lengthAdjust="spacingAndGlyphs">ns</text>
<circle cx="93.20" cy="985.40" r="3.85" fill="#acacac"/>
<circle cx="87.40" cy="990.00" r="3.85" fill="#acacac"/>
<circle cx="104.40" cy="987.90" r="3.85" fill="#acacac"/>
<circle cx="110.20" cy="991.60" r="3.85" fill="#acacac"/>
<circle cx="83.20" cy="995.20" r="3.85" fill="#acacac"/>
<circle cx="98.80" cy="993.10" r="3.85" fill="#acacac"/>
<circle cx="116.00" cy="996.20" r="3.85" fill="#acacac"/>
<circle cx="81.10" cy="999.30" r="3.85" fill="#acacac"/>
<circle cx="87.40" cy="1004.50" r="3.85" fill="#acacac"/>
<circle cx="98.80" cy="1006.20" r="3.85" fill="#acacac"/>
<circle cx="110.20" cy="1004.50" r="3.85" fill="#acacac"/>
<circle cx="87.40" cy="1010.30" r="3.85" fill="#acacac"/>
<circle cx="98.80" cy="1020.70" r="3.85" fill="#acacac"/>
<circle cx="110.60" cy="1017.00" r="3.85" fill="#acacac"/>
<circle cx="93.00" cy="998.00" r="3.85" fill="#acacac"/>
<circle cx="104.50" cy="998.00" r="3.85" fill="#acacac"/>
<circle cx="151.30" cy="980.60" r="3.85" fill="#acacac"/>
<circle cx="163.10" cy="981.70" r="3.85" fill="#acacac"/>
<circle cx="180.30" cy="984.20" r="3.85" fill="#acacac"/>
<circle cx="157.50" cy="986.20" r="3.85" fill="#acacac"/>
<circle cx="168.70" cy="989.60" r="3.85" fill="#acacac"/>
<circle cx="151.30" cy="992.10" r="3.85" fill="#acacac"/>
<circle cx="174.50" cy="993.70" r="3.85" fill="#acacac"/>
<circle cx="145.50" cy="999.30" r="3.85" fill="#acacac"/>
<circle cx="157.50" cy="1004.10" r="3.85" fill="#acacac"/>
<circle cx="168.70" cy="999.90" r="3.85" fill="#acacac"/>
<circle cx="174.50" cy="1005.50" r="3.85" fill="#acacac"/>
<circle cx="151.30" cy="1008.20" r="3.85" fill="#acacac"/>
<circle cx="163.10" cy="1010.30" r="3.85" fill="#acacac"/>
<circle cx="174.50" cy="1013.80" r="3.85" fill="#acacac"/>
<circle cx="163.10" cy="1024.80" r="3.85" fill="#acacac"/>
<circle cx="163.10" cy="995.20" r="3.85" fill="#acacac"/>
<line x1="77.50" y1="998.30" x2="119.80" y2="998.30" stroke="#1e1e1e" stroke-width="2.1"/>
<rect x="88.40" y="995.70" width="20.50" height="5.40" fill="#1e1e1e"/>
<line x1="141.70" y1="995.60" x2="184.50" y2="995.60" stroke="#1e1e1e" stroke-width="2.1"/>
<line x1="152.70" y1="992.70" x2="173.50" y2="992.70" stroke="#1e1e1e" stroke-width="2.1"/>
<line x1="152.70" y1="998.70" x2="173.50" y2="998.70" stroke="#1e1e1e" stroke-width="2.1"/>
<line x1="163.10" y1="992.70" x2="163.10" y2="998.70" stroke="#1e1e1e" stroke-width="2.1"/>
<g transform="translate(7.60,1067.20) rotate(-90)" fill="none" stroke="#231f20" stroke-linecap="butt"><path d="M0.3,3.4 C0,1.6 0.6,0 2.2,0 L10.3,0" stroke-width="2.3"/><path d="M4.7,0 L4.7,9 C4.7,11.2 5.6,12 7,12 C8.3,12 9.2,10.8 9.4,9.2" stroke-width="1.9"/></g>
<text transform="translate(26.80,1057.62) rotate(-90)" font-size="17" font-weight="bold" fill="#231f20">1</text>
<text transform="translate(19.60,1041.63) rotate(-90)" font-size="19" font-weight="bold" fill="#231f20" textLength="124.06" lengthAdjust="spacingAndGlyphs">recovery (ms)</text>
<text transform="translate(105.50,1110.00) rotate(-45)" text-anchor="end" font-size="18.5" font-weight="bold" fill="#231f20">WT</text>
<text transform="translate(127.60,1109.10) rotate(-45)" text-anchor="end" font-size="18.5" fill="#231f20">n=18</text>
<text transform="translate(168.00,1108.00) rotate(-45)" text-anchor="end" font-size="15.4" font-weight="bold" fill="#231f20">A735V</text>
<text transform="translate(190.10,1108.60) rotate(-45)" text-anchor="end" font-size="18.5" fill="#231f20">n=16</text>
<path d="M335.5,894.9 V1087.3 H463.6" stroke="#2b2b2b" stroke-width="1.2" fill="none"/>
<line x1="330.10" y1="894.90" x2="335.50" y2="894.90" stroke="#2b2b2b" stroke-width="1.1"/>
<line x1="330.10" y1="958.90" x2="335.50" y2="958.90" stroke="#2b2b2b" stroke-width="1.1"/>
<line x1="330.10" y1="1022.90" x2="335.50" y2="1022.90" stroke="#2b2b2b" stroke-width="1.1"/>
<line x1="330.10" y1="1087.10" x2="335.50" y2="1087.10" stroke="#2b2b2b" stroke-width="1.1"/>
<text x="282.35" y="899.70" font-size="19.5" fill="#231f20" textLength="45.13" lengthAdjust="spacingAndGlyphs">1,000</text>
<text x="296.72" y="964.20" font-size="19.5" fill="#231f20" textLength="30.79" lengthAdjust="spacingAndGlyphs">100</text>
<text x="304.92" y="1027.90" font-size="19.5" fill="#231f20" textLength="20.47" lengthAdjust="spacingAndGlyphs">10</text>
<text x="313.35" y="1087.00" font-size="19.5" fill="#231f20">1</text>
<line x1="367.70" y1="1087.30" x2="367.70" y2="1092.70" stroke="#2b2b2b" stroke-width="1.1"/>
<line x1="431.60" y1="1087.30" x2="431.60" y2="1092.70" stroke="#2b2b2b" stroke-width="1.1"/>
<text x="335.87" y="865.10" font-size="19.5" font-weight="bold" fill="#231f20" textLength="83.13" lengthAdjust="spacingAndGlyphs">HEK293T</text>
<line x1="364.60" y1="903.40" x2="428.30" y2="903.40" stroke="#2b2b2b" stroke-width="1.3"/>
<text x="383.63" y="904.60" font-size="19.5" fill="#231f20" textLength="21.30" lengthAdjust="spacingAndGlyphs">***</text>
<circle cx="367.70" cy="950.60" r="3.85" fill="#acacac"/>
<circle cx="355.90" cy="962.60" r="3.85" fill="#acacac"/>
<circle cx="367.70" cy="965.10" r="3.85" fill="#acacac"/>
<circle cx="367.70" cy="977.50" r="3.85" fill="#acacac"/>
<circle cx="350.10" cy="995.20" r="3.85" fill="#acacac"/>
<circle cx="356.30" cy="1001.40" r="3.85" fill="#acacac"/>
<circle cx="362.50" cy="997.20" r="3.85" fill="#acacac"/>
<circle cx="367.70" cy="1002.40" r="3.85" fill="#acacac"/>
<circle cx="373.50" cy="996.20" r="3.85" fill="#acacac"/>
<circle cx="379.10" cy="998.30" r="3.85" fill="#acacac"/>
<circle cx="385.00" cy="995.20" r="3.85" fill="#acacac"/>
<circle cx="356.30" cy="1013.20" r="3.85" fill="#acacac"/>
<circle cx="362.10" cy="1010.10" r="3.85" fill="#acacac"/>
<circle cx="373.50" cy="1011.80" r="3.85" fill="#acacac"/>
<circle cx="379.10" cy="1016.30" r="3.85" fill="#acacac"/>
<circle cx="385.00" cy="1008.70" r="3.85" fill="#acacac"/>
<circle cx="367.70" cy="1020.10" r="3.85" fill="#acacac"/>
<circle cx="362.00" cy="990.00" r="3.85" fill="#acacac"/>
<circle cx="414.40" cy="935.60" r="3.85" fill="#acacac"/>
<circle cx="428.90" cy="934.00" r="3.85" fill="#acacac"/>
<circle cx="449.10" cy="934.00" r="3.85" fill="#acacac"/>
<circle cx="437.90" cy="939.10" r="3.85" fill="#acacac"/>
<circle cx="420.20" cy="943.30" r="3.85" fill="#acacac"/>
<circle cx="426.20" cy="942.30" r="3.85" fill="#acacac"/>
<circle cx="443.50" cy="943.30" r="3.85" fill="#acacac"/>
<circle cx="432.10" cy="944.30" r="3.85" fill="#acacac"/>
<circle cx="437.90" cy="951.60" r="3.85" fill="#acacac"/>
<circle cx="420.20" cy="960.90" r="3.85" fill="#acacac"/>
<circle cx="432.10" cy="963.40" r="3.85" fill="#acacac"/>
<circle cx="443.50" cy="963.00" r="3.85" fill="#acacac"/>
<circle cx="420.20" cy="975.00" r="3.85" fill="#acacac"/>
<circle cx="432.10" cy="984.80" r="3.85" fill="#acacac"/>
<circle cx="443.50" cy="1005.10" r="3.85" fill="#acacac"/>
<circle cx="432.10" cy="1010.30" r="3.85" fill="#acacac"/>
<line x1="346.60" y1="987.50" x2="388.50" y2="987.50" stroke="#1e1e1e" stroke-width="2.1"/>
<line x1="357.40" y1="982.10" x2="377.70" y2="982.10" stroke="#1e1e1e" stroke-width="2.1"/>
<line x1="357.40" y1="994.10" x2="377.70" y2="994.10" stroke="#1e1e1e" stroke-width="2.1"/>
<line x1="367.70" y1="982.10" x2="367.70" y2="994.10" stroke="#1e1e1e" stroke-width="2.1"/>
<line x1="410.30" y1="951.00" x2="452.80" y2="951.00" stroke="#1e1e1e" stroke-width="2.1"/>
<line x1="421.70" y1="946.80" x2="442.00" y2="946.80" stroke="#1e1e1e" stroke-width="2.1"/>
<line x1="421.70" y1="955.10" x2="442.00" y2="955.10" stroke="#1e1e1e" stroke-width="2.1"/>
<line x1="432.10" y1="946.80" x2="432.10" y2="955.10" stroke="#1e1e1e" stroke-width="2.1"/>
<g transform="translate(268.50,1067.50) rotate(-90)" fill="none" stroke="#231f20" stroke-linecap="butt"><path d="M0.3,3.4 C0,1.6 0.6,0 2.2,0 L10.3,0" stroke-width="2.3"/><path d="M4.7,0 L4.7,9 C4.7,11.2 5.6,12 7,12 C8.3,12 9.2,10.8 9.4,9.2" stroke-width="1.9"/></g>
<text transform="translate(286.90,1056.02) rotate(-90)" font-size="17" font-weight="bold" fill="#231f20">2</text>
<text transform="translate(280.30,1042.03) rotate(-90)" font-size="19" font-weight="bold" fill="#231f20" textLength="124.16" lengthAdjust="spacingAndGlyphs">recovery (ms)</text>
<text transform="translate(374.00,1110.00) rotate(-45)" text-anchor="end" font-size="18.5" font-weight="bold" fill="#231f20">WT</text>
<text transform="translate(396.10,1109.10) rotate(-45)" text-anchor="end" font-size="18.5" fill="#231f20">n=18</text>
<text transform="translate(439.00,1107.30) rotate(-45)" text-anchor="end" font-size="15.4" font-weight="bold" fill="#231f20">A735V</text>
<text transform="translate(458.90,1110.10) rotate(-45)" text-anchor="end" font-size="18.5" fill="#231f20">n=16</text>
<path d="M615.5,894.9 V1087.3 H743.6" stroke="#2b2b2b" stroke-width="1.2" fill="none"/>
<line x1="610.10" y1="894.90" x2="615.50" y2="894.90" stroke="#2b2b2b" stroke-width="1.1"/>
<line x1="610.10" y1="958.90" x2="615.50" y2="958.90" stroke="#2b2b2b" stroke-width="1.1"/>
<line x1="610.10" y1="1022.90" x2="615.50" y2="1022.90" stroke="#2b2b2b" stroke-width="1.1"/>
<line x1="610.10" y1="1087.10" x2="615.50" y2="1087.10" stroke="#2b2b2b" stroke-width="1.1"/>
<text x="560.29" y="899.50" font-size="19.5" fill="#231f20" textLength="47.12" lengthAdjust="spacingAndGlyphs">1,000</text>
<text x="574.60" y="963.80" font-size="19.5" fill="#231f20" textLength="31.22" lengthAdjust="spacingAndGlyphs">100</text>
<text x="582.34" y="1028.10" font-size="19.5" fill="#231f20" textLength="20.24" lengthAdjust="spacingAndGlyphs">10</text>
<text x="592.05" y="1087.00" font-size="19.5" fill="#231f20">1</text>
<line x1="647.60" y1="1087.30" x2="647.60" y2="1092.70" stroke="#2b2b2b" stroke-width="1.1"/>
<line x1="711.60" y1="1087.30" x2="711.60" y2="1092.70" stroke="#2b2b2b" stroke-width="1.1"/>
<text x="616.67" y="864.70" font-size="19.5" font-weight="bold" fill="#231f20" textLength="91.62" lengthAdjust="spacingAndGlyphs">hiPSC-CM</text>
<line x1="648.60" y1="887.10" x2="708.50" y2="887.10" stroke="#2b2b2b" stroke-width="1.3"/>
<text x="671.74" y="887.40" font-size="19.5" fill="#231f20" textLength="6.81" lengthAdjust="spacingAndGlyphs">*</text>
<circle cx="647.60" cy="939.90" r="3.85" fill="#acacac"/>
<circle cx="659.10" cy="974.40" r="3.85" fill="#acacac"/>
<circle cx="647.60" cy="979.60" r="3.85" fill="#acacac"/>
<circle cx="635.90" cy="993.60" r="3.85" fill="#acacac"/>
<circle cx="647.60" cy="994.60" r="3.85" fill="#acacac"/>
<circle cx="647.60" cy="1021.30" r="3.85" fill="#acacac"/>
<circle cx="699.80" cy="901.50" r="3.85" fill="#acacac"/>
<circle cx="722.80" cy="908.80" r="3.85" fill="#acacac"/>
<circle cx="711.30" cy="912.40" r="3.85" fill="#acacac"/>
<circle cx="695.70" cy="915.00" r="3.85" fill="#acacac"/>
<circle cx="694.10" cy="916.60" r="3.85" fill="#acacac"/>
<circle cx="729.00" cy="916.10" r="3.85" fill="#acacac"/>
<circle cx="707.70" cy="915.60" r="3.85" fill="#acacac"/>
<circle cx="714.40" cy="916.10" r="3.85" fill="#acacac"/>
<circle cx="705.60" cy="920.30" r="3.85" fill="#acacac"/>
<circle cx="717.60" cy="919.20" r="3.85" fill="#acacac"/>
<circle cx="723.30" cy="921.80" r="3.85" fill="#acacac"/>
<circle cx="699.80" cy="924.40" r="3.85" fill="#acacac"/>
<circle cx="711.30" cy="924.40" r="3.85" fill="#acacac"/>
<circle cx="693.60" cy="932.80" r="3.85" fill="#acacac"/>
<circle cx="699.80" cy="936.40" r="3.85" fill="#acacac"/>
<circle cx="729.00" cy="933.80" r="3.85" fill="#acacac"/>
<circle cx="722.80" cy="937.00" r="3.85" fill="#acacac"/>
<circle cx="705.00" cy="934.90" r="3.85" fill="#acacac"/>
<circle cx="717.60" cy="934.90" r="3.85" fill="#acacac"/>
<circle cx="711.30" cy="940.10" r="3.85" fill="#acacac"/>
<circle cx="699.80" cy="951.00" r="3.85" fill="#acacac"/>
<circle cx="722.80" cy="947.20" r="3.85" fill="#acacac"/>
<circle cx="711.30" cy="954.70" r="3.85" fill="#acacac"/>
<circle cx="722.80" cy="967.70" r="3.85" fill="#acacac"/>
<circle cx="711.30" cy="971.40" r="3.85" fill="#acacac"/>
<circle cx="693.60" cy="975.60" r="3.85" fill="#acacac"/>
<circle cx="699.80" cy="978.20" r="3.85" fill="#acacac"/>
<circle cx="705.60" cy="977.10" r="3.85" fill="#acacac"/>
<circle cx="717.00" cy="975.60" r="3.85" fill="#acacac"/>
<circle cx="722.80" cy="978.20" r="3.85" fill="#acacac"/>
<circle cx="711.30" cy="984.40" r="3.85" fill="#acacac"/>
<circle cx="722.80" cy="992.80" r="3.85" fill="#acacac"/>
<circle cx="711.30" cy="1000.60" r="3.85" fill="#acacac"/>
<circle cx="705.60" cy="928.00" r="3.85" fill="#acacac"/>
<circle cx="717.60" cy="928.00" r="3.85" fill="#acacac"/>
<circle cx="711.30" cy="930.00" r="3.85" fill="#acacac"/>
<line x1="626.10" y1="972.70" x2="668.40" y2="972.70" stroke="#1e1e1e" stroke-width="2.1"/>
<line x1="637.10" y1="961.80" x2="658.00" y2="961.80" stroke="#1e1e1e" stroke-width="2.1"/>
<line x1="637.10" y1="989.40" x2="658.00" y2="989.40" stroke="#1e1e1e" stroke-width="2.1"/>
<line x1="647.60" y1="961.80" x2="647.60" y2="989.40" stroke="#1e1e1e" stroke-width="2.1"/>
<line x1="690.20" y1="928.80" x2="732.70" y2="928.80" stroke="#1e1e1e" stroke-width="2.1"/>
<line x1="700.90" y1="924.40" x2="722.00" y2="924.40" stroke="#1e1e1e" stroke-width="2.1"/>
<line x1="700.90" y1="933.00" x2="722.00" y2="933.00" stroke="#1e1e1e" stroke-width="2.1"/>
<line x1="711.10" y1="924.40" x2="711.10" y2="933.00" stroke="#1e1e1e" stroke-width="2.1"/>
<g transform="translate(541.20,1064.60) rotate(-90)" fill="none" stroke="#231f20" stroke-linecap="butt"><path d="M0.3,3.4 C0,1.6 0.6,0 2.2,0 L10.3,0" stroke-width="2.3"/><path d="M4.7,0 L4.7,9 C4.7,11.2 5.6,12 7,12 C8.3,12 9.2,10.8 9.4,9.2" stroke-width="1.9"/></g>
<text transform="translate(559.70,1052.88) rotate(-90)" font-size="17" font-weight="bold" fill="#231f20">2</text>
<text transform="translate(552.90,1038.84) rotate(-90)" font-size="19" font-weight="bold" fill="#231f20" textLength="124.87" lengthAdjust="spacingAndGlyphs">recovery (ms)</text>
<text transform="translate(653.80,1109.50) rotate(-45)" text-anchor="end" font-size="18.5" font-weight="bold" fill="#231f20">WT</text>
<text transform="translate(676.60,1109.30) rotate(-45)" text-anchor="end" font-size="18.5" fill="#231f20">n=6</text>
<text transform="translate(720.70,1109.00) rotate(-45)" text-anchor="end" font-size="19.3" font-weight="bold" fill="#231f20">A735V</text>
<text transform="translate(741.90,1110.10) rotate(-45)" text-anchor="end" font-size="18.5" fill="#231f20">n=36</text>
</svg>
</body></html>
